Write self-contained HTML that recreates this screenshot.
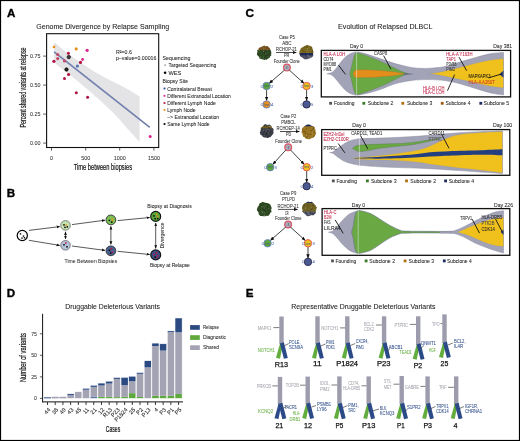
<!DOCTYPE html>
<html><head><meta charset="utf-8"><style>
html,body{margin:0;padding:0;background:#fff;}
body{width:520px;height:441px;overflow:hidden;}
svg{display:block;font-family:"Liberation Sans", sans-serif;will-change:transform;}
</style></head><body>
<svg width="520" height="441" viewBox="0 0 520 441">
<defs>
<marker id="ah" viewBox="0 0 10 10" refX="9" refY="5" markerWidth="5" markerHeight="5" orient="auto"><path d="M0,1 L10,5 L0,9 Z" fill="#111"/></marker>
<marker id="ahs" viewBox="0 0 10 10" refX="1" refY="5" markerWidth="5" markerHeight="5" orient="auto"><path d="M10,1 L0,5 L10,9 Z" fill="#111"/></marker>
<filter id="rough" x="-20%" y="-20%" width="140%" height="140%"><feTurbulence type="fractalNoise" baseFrequency="0.9" numOctaves="2" seed="3" result="n"/><feDisplacementMap in="SourceGraphic" in2="n" scale="2"/></filter>
</defs>
<rect x="0" y="0" width="520" height="441" fill="#fff"/>
<text x="6.90" y="16.90" font-size="11.6" fill="#000" font-weight="bold" stroke="#000" stroke-width="0.35">A</text>
<text x="36.30" y="29.35" font-size="8.0" fill="#222" stroke="#222" stroke-width="0.080" textLength="133.00" lengthAdjust="spacingAndGlyphs">Genome Divergence by Relapse Sampling</text>
<path d="M54.1,42.3 C60,47 65,51.5 70,55 C78,60.5 86,66.5 95,72 C104,77 112,81.5 120,85 C127,88.5 133,92.5 139.6,96.4 L139.6,142 C133,135 126,127 120,120 C112,111 104,104 95,96 C87,89 78,81 70,75 C64,70.5 59,66.5 54.1,62.5 Z" fill="#e4e4e7" stroke="none" stroke-width="1"/>
<line x1="54.10" y1="51.80" x2="149.80" y2="127.30" stroke="#7280ae" stroke-width="1.7"/>
<rect x="46.60" y="33.70" width="112.10" height="113.80" fill="none" stroke="#111" stroke-width="1.1"/>
<line x1="43.20" y1="56.10" x2="46.60" y2="56.10" stroke="#333" stroke-width="0.8"/>
<text x="40.60" y="58.00" font-size="5.4" fill="#333" stroke="#333" stroke-width="0.054" text-anchor="end">0.75</text>
<line x1="43.20" y1="85.10" x2="46.60" y2="85.10" stroke="#333" stroke-width="0.8"/>
<text x="40.60" y="87.00" font-size="5.4" fill="#333" stroke="#333" stroke-width="0.054" text-anchor="end">0.50</text>
<line x1="43.20" y1="114.10" x2="46.60" y2="114.10" stroke="#333" stroke-width="0.8"/>
<text x="40.60" y="116.00" font-size="5.4" fill="#333" stroke="#333" stroke-width="0.054" text-anchor="end">0.25</text>
<line x1="43.20" y1="143.10" x2="46.60" y2="143.10" stroke="#333" stroke-width="0.8"/>
<text x="40.60" y="145.00" font-size="5.4" fill="#333" stroke="#333" stroke-width="0.054" text-anchor="end">0.00</text>
<line x1="51.50" y1="147.50" x2="51.50" y2="150.60" stroke="#333" stroke-width="0.8"/>
<text x="51.50" y="159.50" font-size="5.4" fill="#333" stroke="#333" stroke-width="0.054" text-anchor="middle">0</text>
<line x1="85.70" y1="147.50" x2="85.70" y2="150.60" stroke="#333" stroke-width="0.8"/>
<text x="85.70" y="159.50" font-size="5.4" fill="#333" stroke="#333" stroke-width="0.054" text-anchor="middle">500</text>
<line x1="119.70" y1="147.50" x2="119.70" y2="150.60" stroke="#333" stroke-width="0.8"/>
<text x="119.70" y="159.50" font-size="5.4" fill="#333" stroke="#333" stroke-width="0.054" text-anchor="middle">1000</text>
<line x1="153.90" y1="147.50" x2="153.90" y2="150.60" stroke="#333" stroke-width="0.8"/>
<text x="153.90" y="159.50" font-size="5.4" fill="#333" stroke="#333" stroke-width="0.054" text-anchor="middle">1500</text>
<text x="73.75" y="170.40" font-size="8.8" fill="#111" textLength="58.30" lengthAdjust="spacingAndGlyphs" stroke="#111" stroke-width="0.2">Time between biopsies</text>
<text x="25.80" y="127.50" font-size="8.8" fill="#111" textLength="80.00" lengthAdjust="spacingAndGlyphs" transform="rotate(-90 25.80 127.50)" stroke="#111" stroke-width="0.2">Percent shared variants at relapse</text>
<rect x="52.80" y="45.70" width="2.40" height="2.40" fill="#e8901e" stroke="none" stroke-width="1"/>
<circle cx="76.20" cy="48.90" r="1.60" fill="#e8901e" stroke="none" stroke-width="1"/>
<circle cx="87.10" cy="50.30" r="1.60" fill="#e0218a" stroke="none" stroke-width="1"/>
<circle cx="68.40" cy="53.30" r="1.50" fill="#b3123f" stroke="none" stroke-width="1"/>
<circle cx="57.70" cy="54.50" r="1.60" fill="#c24a6a" stroke="none" stroke-width="1"/>
<circle cx="57.70" cy="58.60" r="1.60" fill="#c24a6a" stroke="none" stroke-width="1"/>
<circle cx="53.90" cy="61.30" r="1.60" fill="#b3123f" stroke="none" stroke-width="1"/>
<circle cx="64.50" cy="60.90" r="1.60" fill="#c24a6a" stroke="none" stroke-width="1"/>
<circle cx="82.60" cy="59.50" r="1.40" fill="#e0218a" stroke="none" stroke-width="1"/>
<circle cx="80.50" cy="62.40" r="1.60" fill="#b3123f" stroke="none" stroke-width="1"/>
<circle cx="77.40" cy="66.10" r="1.60" fill="#5a76b0" stroke="none" stroke-width="1"/>
<circle cx="68.60" cy="74.50" r="1.60" fill="#b3123f" stroke="none" stroke-width="1"/>
<circle cx="64.50" cy="78.60" r="1.50" fill="#b3123f" stroke="none" stroke-width="1"/>
<circle cx="76.30" cy="92.70" r="1.50" fill="#b3123f" stroke="none" stroke-width="1"/>
<circle cx="87.60" cy="97.30" r="1.50" fill="#b3123f" stroke="none" stroke-width="1"/>
<circle cx="150.20" cy="136.50" r="1.50" fill="#e0218a" stroke="none" stroke-width="1"/>
<circle cx="68.80" cy="57.10" r="1.70" fill="#444" stroke="#000" stroke-width="0.7"/>
<circle cx="66.50" cy="69.50" r="1.70" fill="#222" stroke="#000" stroke-width="0.7"/>
<text x="115.90" y="54.16" font-size="5.4" fill="#222" stroke="#222" stroke-width="0.054" textLength="16.00" lengthAdjust="spacingAndGlyphs">R²=0.6</text>
<text x="115.90" y="59.86" font-size="5.4" fill="#222" stroke="#222" stroke-width="0.054" textLength="40.60" lengthAdjust="spacingAndGlyphs">p–value=0.00016</text>
<text x="162.60" y="60.23" font-size="5.9" fill="#222" stroke="#222" stroke-width="0.059" textLength="27.90" lengthAdjust="spacingAndGlyphs">Sequencing</text>
<circle cx="165.10" cy="65.00" r="0.60" fill="#000" stroke="none" stroke-width="1"/>
<text x="168.40" y="67.03" font-size="5.9" fill="#222" stroke="#222" stroke-width="0.059" textLength="47.90" lengthAdjust="spacingAndGlyphs">Targeted Sequencing</text>
<circle cx="165.10" cy="72.70" r="1.30" fill="#000" stroke="none" stroke-width="1"/>
<text x="168.40" y="74.73" font-size="5.9" fill="#222" stroke="#222" stroke-width="0.059" textLength="12.90" lengthAdjust="spacingAndGlyphs">WES</text>
<text x="162.60" y="83.23" font-size="5.9" fill="#222" stroke="#222" stroke-width="0.059" textLength="25.40" lengthAdjust="spacingAndGlyphs">Biopsy Site</text>
<rect x="163.60" y="87.60" width="1.80" height="1.80" fill="#23449a" stroke="none" stroke-width="1"/>
<text x="167.20" y="90.53" font-size="5.9" fill="#222" stroke="#222" stroke-width="0.059" textLength="44.60" lengthAdjust="spacingAndGlyphs">Contralateral Breast</text>
<rect x="163.60" y="94.90" width="1.80" height="1.80" fill="#e0218a" stroke="none" stroke-width="1"/>
<text x="167.20" y="97.83" font-size="5.9" fill="#222" stroke="#222" stroke-width="0.059" textLength="63.60" lengthAdjust="spacingAndGlyphs">Different Extranodal Location</text>
<rect x="163.60" y="102.10" width="1.80" height="1.80" fill="#b3123f" stroke="none" stroke-width="1"/>
<text x="167.20" y="105.03" font-size="5.9" fill="#222" stroke="#222" stroke-width="0.059" textLength="48.60" lengthAdjust="spacingAndGlyphs">Different Lymph Node</text>
<rect x="163.60" y="109.10" width="1.80" height="1.80" fill="#e8901e" stroke="none" stroke-width="1"/>
<text x="167.20" y="112.03" font-size="5.9" fill="#222" stroke="#222" stroke-width="0.059" textLength="28.30" lengthAdjust="spacingAndGlyphs">Lymph Node</text>
<rect x="163.60" y="123.10" width="1.80" height="1.80" fill="#000" stroke="none" stroke-width="1"/>
<text x="167.20" y="126.03" font-size="5.9" fill="#222" stroke="#222" stroke-width="0.059" textLength="42.30" lengthAdjust="spacingAndGlyphs">Same Lymph Node</text>
<text x="167.20" y="118.93" font-size="5.9" fill="#222" stroke="#222" stroke-width="0.059" textLength="52.00" lengthAdjust="spacingAndGlyphs">–&gt; Extranodal Location</text>
<text x="6.80" y="197.00" font-size="11.6" fill="#000" font-weight="bold" stroke="#000" stroke-width="0.35">B</text>
<circle cx="22.30" cy="235.50" r="5.10" fill="#fff" stroke="#000" stroke-width="1.2"/>
<rect x="19.80" y="233.20" width="1.40" height="1.40" fill="#000" stroke="none" stroke-width="1"/>
<rect x="22.80" y="235.40" width="1.40" height="1.40" fill="#000" stroke="none" stroke-width="1"/>
<rect x="23.80" y="237.10" width="1.40" height="1.40" fill="#000" stroke="none" stroke-width="1"/>
<rect x="21.30" y="237.40" width="1.40" height="1.40" fill="#000" stroke="none" stroke-width="1"/>
<circle cx="65.50" cy="225.40" r="4.80" fill="#c5e3b0" stroke="#666" stroke-width="0.8"/>
<circle cx="65.50" cy="245.30" r="4.80" fill="#b4c2dc" stroke="#666" stroke-width="0.8"/>
<circle cx="110.90" cy="219.90" r="4.90" fill="#7bbf57" stroke="#333" stroke-width="0.9"/>
<circle cx="110.90" cy="250.80" r="4.90" fill="#4a5f92" stroke="#333" stroke-width="0.9"/>
<circle cx="155.70" cy="216.40" r="5.00" fill="#5aa83a" stroke="#111" stroke-width="1.1"/>
<circle cx="155.70" cy="254.90" r="5.00" fill="#3a4f85" stroke="#111" stroke-width="1.1"/>
<rect x="63.25" y="224.15" width="1.50" height="1.50" fill="#000" stroke="none" stroke-width="1"/>
<rect x="65.55" y="224.25" width="1.50" height="1.50" fill="#e8901e" stroke="none" stroke-width="1"/>
<rect x="66.55" y="226.15" width="1.50" height="1.50" fill="#000" stroke="none" stroke-width="1"/>
<rect x="64.25" y="226.65" width="1.50" height="1.50" fill="#000" stroke="none" stroke-width="1"/>
<rect x="63.25" y="244.05" width="1.50" height="1.50" fill="#000" stroke="none" stroke-width="1"/>
<rect x="65.05" y="242.25" width="1.50" height="1.50" fill="#c0103a" stroke="none" stroke-width="1"/>
<rect x="66.25" y="246.05" width="1.50" height="1.50" fill="#000" stroke="none" stroke-width="1"/>
<rect x="108.65" y="219.65" width="1.50" height="1.50" fill="#000" stroke="none" stroke-width="1"/>
<rect x="111.35" y="218.05" width="1.50" height="1.50" fill="#e8901e" stroke="none" stroke-width="1"/>
<rect x="112.15" y="219.65" width="1.50" height="1.50" fill="#e8901e" stroke="none" stroke-width="1"/>
<rect x="110.95" y="221.35" width="1.50" height="1.50" fill="#000" stroke="none" stroke-width="1"/>
<rect x="108.65" y="249.55" width="1.50" height="1.50" fill="#000" stroke="none" stroke-width="1"/>
<rect x="110.65" y="248.05" width="1.50" height="1.50" fill="#c0103a" stroke="none" stroke-width="1"/>
<rect x="111.65" y="251.55" width="1.50" height="1.50" fill="#c0103a" stroke="none" stroke-width="1"/>
<rect x="109.95" y="252.25" width="1.50" height="1.50" fill="#000" stroke="none" stroke-width="1"/>
<rect x="153.15" y="215.15" width="1.50" height="1.50" fill="#000" stroke="none" stroke-width="1"/>
<rect x="155.85" y="213.65" width="1.50" height="1.50" fill="#e8901e" stroke="none" stroke-width="1"/>
<rect x="156.75" y="215.85" width="1.50" height="1.50" fill="#e8901e" stroke="none" stroke-width="1"/>
<rect x="154.45" y="217.95" width="1.50" height="1.50" fill="#000" stroke="none" stroke-width="1"/>
<rect x="156.95" y="217.85" width="1.50" height="1.50" fill="#000" stroke="none" stroke-width="1"/>
<rect x="153.15" y="253.65" width="1.50" height="1.50" fill="#c0103a" stroke="none" stroke-width="1"/>
<rect x="155.75" y="252.15" width="1.50" height="1.50" fill="#c0103a" stroke="none" stroke-width="1"/>
<rect x="156.95" y="254.95" width="1.50" height="1.50" fill="#c0103a" stroke="none" stroke-width="1"/>
<rect x="154.45" y="256.45" width="1.50" height="1.50" fill="#000" stroke="none" stroke-width="1"/>
<rect x="155.95" y="256.65" width="1.50" height="1.50" fill="#c0103a" stroke="none" stroke-width="1"/>
<line x1="28.90" y1="230.40" x2="59.70" y2="226.60" stroke="#111" stroke-width="0.7" marker-end="url(#ah)"/>
<line x1="28.90" y1="240.30" x2="59.70" y2="245.40" stroke="#111" stroke-width="0.7" marker-end="url(#ah)"/>
<line x1="72.00" y1="224.60" x2="105.00" y2="220.20" stroke="#111" stroke-width="0.7" marker-end="url(#ah)"/>
<line x1="72.00" y1="246.00" x2="105.00" y2="250.40" stroke="#111" stroke-width="0.7" marker-end="url(#ah)"/>
<line x1="117.60" y1="220.60" x2="149.70" y2="217.50" stroke="#111" stroke-width="0.7" marker-end="url(#ah)"/>
<line x1="117.60" y1="251.30" x2="149.70" y2="254.50" stroke="#111" stroke-width="0.7" marker-end="url(#ah)"/>
<line x1="65.50" y1="231.80" x2="65.50" y2="239.00" stroke="#111" stroke-width="0.7" marker-end="url(#ah)" marker-start="url(#ahs)"/>
<line x1="110.90" y1="226.40" x2="110.90" y2="244.30" stroke="#111" stroke-width="0.7" marker-end="url(#ah)" marker-start="url(#ahs)"/>
<line x1="155.70" y1="223.00" x2="155.70" y2="248.30" stroke="#111" stroke-width="0.7" marker-end="url(#ah)" marker-start="url(#ahs)"/>
<text x="64.60" y="263.32" font-size="5.3" fill="#333" stroke="#333" stroke-width="0.053" textLength="52.60" lengthAdjust="spacingAndGlyphs">Time Between Biopsies</text>
<text x="147.20" y="207.72" font-size="5.3" fill="#222" stroke="#222" stroke-width="0.053" textLength="44.50" lengthAdjust="spacingAndGlyphs">Biopsy at Diagnosis</text>
<text x="149.90" y="267.22" font-size="5.3" fill="#222" stroke="#222" stroke-width="0.053" textLength="40.00" lengthAdjust="spacingAndGlyphs">Biopsy at Relapse</text>
<text x="163.60" y="248.50" font-size="6.2" fill="#222" stroke="#222" stroke-width="0.062" textLength="25.90" lengthAdjust="spacingAndGlyphs" transform="rotate(-90 163.60 248.50)">Divergence</text>
<text x="6.80" y="297.00" font-size="11.6" fill="#000" font-weight="bold" stroke="#000" stroke-width="0.35">D</text>
<text x="65.30" y="308.94" font-size="6.8" fill="#222" stroke="#222" stroke-width="0.068" textLength="94.60" lengthAdjust="spacingAndGlyphs">Druggable Deleterious Variants</text>
<line x1="42.60" y1="313.80" x2="42.60" y2="402.20" stroke="#111" stroke-width="1.0"/>
<line x1="42.10" y1="401.90" x2="183.00" y2="401.90" stroke="#111" stroke-width="1.0"/>
<line x1="39.90" y1="333.80" x2="42.60" y2="333.80" stroke="#333" stroke-width="0.8"/>
<text x="37.00" y="335.60" font-size="5.2" fill="#333" stroke="#333" stroke-width="0.052" text-anchor="end">75</text>
<line x1="39.90" y1="355.30" x2="42.60" y2="355.30" stroke="#333" stroke-width="0.8"/>
<text x="37.00" y="357.10" font-size="5.2" fill="#333" stroke="#333" stroke-width="0.052" text-anchor="end">50</text>
<line x1="39.90" y1="376.90" x2="42.60" y2="376.90" stroke="#333" stroke-width="0.8"/>
<text x="37.00" y="378.70" font-size="5.2" fill="#333" stroke="#333" stroke-width="0.052" text-anchor="end">25</text>
<line x1="39.90" y1="398.40" x2="42.60" y2="398.40" stroke="#333" stroke-width="0.8"/>
<text x="37.00" y="400.20" font-size="5.2" fill="#333" stroke="#333" stroke-width="0.052" text-anchor="end">0</text>
<text x="26.00" y="382.10" font-size="8.8" fill="#111" textLength="49.00" lengthAdjust="spacingAndGlyphs" transform="rotate(-90 26.00 382.10)" stroke="#111" stroke-width="0.2">Number of variants</text>
<text x="105.80" y="432.10" font-size="8.8" fill="#111" textLength="14.40" lengthAdjust="spacingAndGlyphs" stroke="#111" stroke-width="0.2">Cases</text>
<rect x="43.95" y="397.11" width="7.10" height="1.29" fill="#5b73a8" stroke="none" stroke-width="1"/>
<line x1="47.50" y1="401.90" x2="47.50" y2="405.00" stroke="#222" stroke-width="0.9"/>
<text x="50.80" y="410.00" font-size="5.7" fill="#222" stroke="#222" stroke-width="0.057" text-anchor="end" transform="rotate(-47 50.80 410.00)">44</text>
<rect x="51.66" y="396.77" width="7.10" height="1.63" fill="#a3a3b4" stroke="none" stroke-width="1"/>
<line x1="55.21" y1="401.90" x2="55.21" y2="405.00" stroke="#222" stroke-width="0.9"/>
<text x="58.51" y="410.00" font-size="5.7" fill="#222" stroke="#222" stroke-width="0.057" text-anchor="end" transform="rotate(-47 58.51 410.00)">38</text>
<rect x="59.37" y="396.77" width="7.10" height="1.63" fill="#a3a3b4" stroke="none" stroke-width="1"/>
<line x1="62.92" y1="401.90" x2="62.92" y2="405.00" stroke="#222" stroke-width="0.9"/>
<text x="66.22" y="410.00" font-size="5.7" fill="#222" stroke="#222" stroke-width="0.057" text-anchor="end" transform="rotate(-47 66.22 410.00)">49</text>
<rect x="67.08" y="395.13" width="7.10" height="3.27" fill="#a3a3b4" stroke="none" stroke-width="1"/>
<rect x="67.08" y="393.84" width="7.10" height="1.29" fill="#2b4a82" stroke="none" stroke-width="1"/>
<rect x="67.08" y="393.84" width="7.10" height="4.56" fill="none" stroke="#fff" stroke-width="0.5"/>
<line x1="70.63" y1="401.90" x2="70.63" y2="405.00" stroke="#222" stroke-width="0.9"/>
<text x="73.93" y="410.00" font-size="5.7" fill="#222" stroke="#222" stroke-width="0.057" text-anchor="end" transform="rotate(-47 73.93 410.00)">43</text>
<rect x="74.79" y="391.78" width="7.10" height="6.62" fill="#a3a3b4" stroke="none" stroke-width="1"/>
<rect x="74.79" y="391.78" width="7.10" height="6.62" fill="none" stroke="#fff" stroke-width="0.5"/>
<line x1="78.34" y1="401.90" x2="78.34" y2="405.00" stroke="#222" stroke-width="0.9"/>
<text x="81.64" y="410.00" font-size="5.7" fill="#222" stroke="#222" stroke-width="0.057" text-anchor="end" transform="rotate(-47 81.64 410.00)">45</text>
<rect x="82.50" y="389.71" width="7.10" height="8.69" fill="#a3a3b4" stroke="none" stroke-width="1"/>
<rect x="82.50" y="388.25" width="7.10" height="1.46" fill="#2b4a82" stroke="none" stroke-width="1"/>
<rect x="82.50" y="388.25" width="7.10" height="10.15" fill="none" stroke="#fff" stroke-width="0.5"/>
<line x1="86.05" y1="401.90" x2="86.05" y2="405.00" stroke="#222" stroke-width="0.9"/>
<text x="89.35" y="410.00" font-size="5.7" fill="#222" stroke="#222" stroke-width="0.057" text-anchor="end" transform="rotate(-47 89.35 410.00)">11</text>
<rect x="90.21" y="396.85" width="7.10" height="1.55" fill="#5b73a8" stroke="none" stroke-width="1"/>
<rect x="90.21" y="386.88" width="7.10" height="9.98" fill="#a3a3b4" stroke="none" stroke-width="1"/>
<rect x="90.21" y="385.24" width="7.10" height="1.63" fill="#2b4a82" stroke="none" stroke-width="1"/>
<rect x="90.21" y="385.24" width="7.10" height="13.16" fill="none" stroke="#fff" stroke-width="0.5"/>
<line x1="93.76" y1="401.90" x2="93.76" y2="405.00" stroke="#222" stroke-width="0.9"/>
<text x="97.06" y="410.00" font-size="5.7" fill="#222" stroke="#222" stroke-width="0.057" text-anchor="end" transform="rotate(-47 97.06 410.00)">21</text>
<rect x="97.92" y="396.85" width="7.10" height="1.55" fill="#5ea83c" stroke="none" stroke-width="1"/>
<rect x="97.92" y="385.50" width="7.10" height="11.35" fill="#a3a3b4" stroke="none" stroke-width="1"/>
<rect x="97.92" y="383.09" width="7.10" height="2.41" fill="#2b4a82" stroke="none" stroke-width="1"/>
<rect x="97.92" y="383.09" width="7.10" height="15.31" fill="none" stroke="#fff" stroke-width="0.5"/>
<line x1="101.47" y1="401.90" x2="101.47" y2="405.00" stroke="#222" stroke-width="0.9"/>
<text x="104.77" y="410.00" font-size="5.7" fill="#222" stroke="#222" stroke-width="0.057" text-anchor="end" transform="rotate(-47 104.77 410.00)">12</text>
<rect x="105.63" y="396.85" width="7.10" height="1.55" fill="#5ea83c" stroke="none" stroke-width="1"/>
<rect x="105.63" y="383.52" width="7.10" height="13.33" fill="#a3a3b4" stroke="none" stroke-width="1"/>
<rect x="105.63" y="381.20" width="7.10" height="2.32" fill="#2b4a82" stroke="none" stroke-width="1"/>
<rect x="105.63" y="381.20" width="7.10" height="17.20" fill="none" stroke="#fff" stroke-width="0.5"/>
<line x1="109.18" y1="401.90" x2="109.18" y2="405.00" stroke="#222" stroke-width="0.9"/>
<text x="112.48" y="410.00" font-size="5.7" fill="#222" stroke="#222" stroke-width="0.057" text-anchor="end" transform="rotate(-47 112.48 410.00)">R13</text>
<rect x="113.34" y="397.11" width="7.10" height="1.29" fill="#5ea83c" stroke="none" stroke-width="1"/>
<rect x="113.34" y="378.88" width="7.10" height="18.23" fill="#a3a3b4" stroke="none" stroke-width="1"/>
<rect x="113.34" y="377.50" width="7.10" height="1.38" fill="#2b4a82" stroke="none" stroke-width="1"/>
<rect x="113.34" y="377.50" width="7.10" height="20.90" fill="none" stroke="#fff" stroke-width="0.5"/>
<line x1="116.89" y1="401.90" x2="116.89" y2="405.00" stroke="#222" stroke-width="0.9"/>
<text x="120.19" y="410.00" font-size="5.7" fill="#222" stroke="#222" stroke-width="0.057" text-anchor="end" transform="rotate(-47 120.19 410.00)">P23</text>
<rect x="121.05" y="396.85" width="7.10" height="1.55" fill="#5ea83c" stroke="none" stroke-width="1"/>
<rect x="121.05" y="385.07" width="7.10" height="11.78" fill="#a3a3b4" stroke="none" stroke-width="1"/>
<rect x="121.05" y="377.33" width="7.10" height="7.74" fill="#2b4a82" stroke="none" stroke-width="1"/>
<rect x="121.05" y="377.33" width="7.10" height="21.07" fill="none" stroke="#fff" stroke-width="0.5"/>
<line x1="124.60" y1="401.90" x2="124.60" y2="405.00" stroke="#222" stroke-width="0.9"/>
<text x="127.90" y="410.00" font-size="5.7" fill="#222" stroke="#222" stroke-width="0.057" text-anchor="end" transform="rotate(-47 127.90 410.00)">P1824</text>
<rect x="128.76" y="393.15" width="7.10" height="5.25" fill="#5ea83c" stroke="none" stroke-width="1"/>
<rect x="128.76" y="381.29" width="7.10" height="11.87" fill="#a3a3b4" stroke="none" stroke-width="1"/>
<rect x="128.76" y="376.21" width="7.10" height="5.07" fill="#2b4a82" stroke="none" stroke-width="1"/>
<rect x="128.76" y="376.21" width="7.10" height="22.19" fill="none" stroke="#fff" stroke-width="0.5"/>
<line x1="132.31" y1="401.90" x2="132.31" y2="405.00" stroke="#222" stroke-width="0.9"/>
<text x="135.61" y="410.00" font-size="5.7" fill="#222" stroke="#222" stroke-width="0.057" text-anchor="end" transform="rotate(-47 135.61 410.00)">25</text>
<rect x="136.47" y="397.02" width="7.10" height="1.38" fill="#5ea83c" stroke="none" stroke-width="1"/>
<rect x="136.47" y="373.80" width="7.10" height="23.22" fill="#a3a3b4" stroke="none" stroke-width="1"/>
<rect x="136.47" y="372.51" width="7.10" height="1.29" fill="#2b4a82" stroke="none" stroke-width="1"/>
<rect x="136.47" y="372.51" width="7.10" height="25.89" fill="none" stroke="#fff" stroke-width="0.5"/>
<line x1="140.02" y1="401.90" x2="140.02" y2="405.00" stroke="#222" stroke-width="0.9"/>
<text x="143.32" y="410.00" font-size="5.7" fill="#222" stroke="#222" stroke-width="0.057" text-anchor="end" transform="rotate(-47 143.32 410.00)">P2</text>
<rect x="144.18" y="367.35" width="7.10" height="31.05" fill="#a3a3b4" stroke="none" stroke-width="1"/>
<rect x="144.18" y="360.73" width="7.10" height="6.62" fill="#2b4a82" stroke="none" stroke-width="1"/>
<rect x="144.18" y="360.73" width="7.10" height="37.67" fill="none" stroke="#fff" stroke-width="0.5"/>
<line x1="147.73" y1="401.90" x2="147.73" y2="405.00" stroke="#222" stroke-width="0.9"/>
<text x="151.03" y="410.00" font-size="5.7" fill="#222" stroke="#222" stroke-width="0.057" text-anchor="end" transform="rotate(-47 151.03 410.00)">P13</text>
<rect x="151.89" y="395.82" width="7.10" height="2.58" fill="#5ea83c" stroke="none" stroke-width="1"/>
<rect x="151.89" y="346.03" width="7.10" height="49.79" fill="#a3a3b4" stroke="none" stroke-width="1"/>
<rect x="151.89" y="343.10" width="7.10" height="2.92" fill="#2b4a82" stroke="none" stroke-width="1"/>
<rect x="151.89" y="343.10" width="7.10" height="55.30" fill="none" stroke="#fff" stroke-width="0.5"/>
<line x1="155.44" y1="401.90" x2="155.44" y2="405.00" stroke="#222" stroke-width="0.9"/>
<text x="158.74" y="410.00" font-size="5.7" fill="#222" stroke="#222" stroke-width="0.057" text-anchor="end" transform="rotate(-47 158.74 410.00)">4</text>
<rect x="159.60" y="395.82" width="7.10" height="2.58" fill="#5ea83c" stroke="none" stroke-width="1"/>
<rect x="159.60" y="350.58" width="7.10" height="45.24" fill="#a3a3b4" stroke="none" stroke-width="1"/>
<rect x="159.60" y="343.79" width="7.10" height="6.79" fill="#2b4a82" stroke="none" stroke-width="1"/>
<rect x="159.60" y="343.79" width="7.10" height="54.61" fill="none" stroke="#fff" stroke-width="0.5"/>
<line x1="163.15" y1="401.90" x2="163.15" y2="405.00" stroke="#222" stroke-width="0.9"/>
<text x="166.45" y="410.00" font-size="5.7" fill="#222" stroke="#222" stroke-width="0.057" text-anchor="end" transform="rotate(-47 166.45 410.00)">P3</text>
<rect x="167.31" y="395.82" width="7.10" height="2.58" fill="#5ea83c" stroke="none" stroke-width="1"/>
<rect x="167.31" y="332.09" width="7.10" height="63.73" fill="#a3a3b4" stroke="none" stroke-width="1"/>
<rect x="167.31" y="330.89" width="7.10" height="1.20" fill="#2b4a82" stroke="none" stroke-width="1"/>
<rect x="167.31" y="330.89" width="7.10" height="67.51" fill="none" stroke="#fff" stroke-width="0.5"/>
<line x1="170.86" y1="401.90" x2="170.86" y2="405.00" stroke="#222" stroke-width="0.9"/>
<text x="174.16" y="410.00" font-size="5.7" fill="#222" stroke="#222" stroke-width="0.057" text-anchor="end" transform="rotate(-47 174.16 410.00)">P1</text>
<rect x="175.02" y="393.93" width="7.10" height="4.47" fill="#5ea83c" stroke="none" stroke-width="1"/>
<rect x="175.02" y="332.27" width="7.10" height="61.66" fill="#a3a3b4" stroke="none" stroke-width="1"/>
<rect x="175.02" y="317.99" width="7.10" height="14.28" fill="#2b4a82" stroke="none" stroke-width="1"/>
<rect x="175.02" y="317.99" width="7.10" height="80.41" fill="none" stroke="#fff" stroke-width="0.5"/>
<line x1="178.57" y1="401.90" x2="178.57" y2="405.00" stroke="#222" stroke-width="0.9"/>
<text x="181.87" y="410.00" font-size="5.7" fill="#222" stroke="#222" stroke-width="0.057" text-anchor="end" transform="rotate(-47 181.87 410.00)">P5</text>
<rect x="190.10" y="325.10" width="9.70" height="4.70" fill="#2b4a82" stroke="none" stroke-width="1"/>
<rect x="190.10" y="335.20" width="9.70" height="4.70" fill="#5ea83c" stroke="none" stroke-width="1"/>
<rect x="190.10" y="345.30" width="9.70" height="4.70" fill="#a3a3b4" stroke="none" stroke-width="1"/>
<text x="202.90" y="329.12" font-size="5.0" fill="#222" stroke="#222" stroke-width="0.050" textLength="16.10" lengthAdjust="spacingAndGlyphs">Relapse</text>
<text x="202.90" y="339.22" font-size="5.0" fill="#222" stroke="#222" stroke-width="0.050" textLength="23.10" lengthAdjust="spacingAndGlyphs">Diagnostic</text>
<text x="202.90" y="349.32" font-size="5.0" fill="#222" stroke="#222" stroke-width="0.050" textLength="16.10" lengthAdjust="spacingAndGlyphs">Shared</text>
<text x="245.70" y="297.00" font-size="11.6" fill="#000" font-weight="bold" stroke="#000" stroke-width="0.35">E</text>
<text x="291.30" y="308.71" font-size="7.0" fill="#222" stroke="#222" stroke-width="0.070" textLength="144.10" lengthAdjust="spacingAndGlyphs">Representative Druggable Deleterious Variants</text>
<rect x="279.30" y="316.50" width="4.40" height="27.40" fill="#9c9cad" stroke="none" stroke-width="1"/>
<polygon points="280.10,343.20 282.90,344.20 280.00,358.70 276.00,357.80" fill="#62ad3d" stroke="none" stroke-width="1"/>
<polygon points="279.90,343.50 283.90,342.30 287.80,357.90 283.90,358.80" fill="#2b4a87" stroke="none" stroke-width="1"/>
<rect x="315.30" y="316.30" width="4.40" height="27.60" fill="#9c9cad" stroke="none" stroke-width="1"/>
<polygon points="316.10,343.20 318.90,344.20 316.00,358.70 312.00,357.80" fill="#62ad3d" stroke="none" stroke-width="1"/>
<polygon points="315.90,343.50 319.90,342.30 323.80,357.90 319.90,358.80" fill="#2b4a87" stroke="none" stroke-width="1"/>
<rect x="345.10" y="316.30" width="4.40" height="27.60" fill="#9c9cad" stroke="none" stroke-width="1"/>
<polygon points="345.90,343.20 348.70,344.20 345.80,358.70 341.80,357.80" fill="#62ad3d" stroke="none" stroke-width="1"/>
<polygon points="345.70,343.50 349.70,342.30 353.60,357.90 349.70,358.80" fill="#2b4a87" stroke="none" stroke-width="1"/>
<rect x="381.90" y="316.30" width="4.40" height="27.60" fill="#9c9cad" stroke="none" stroke-width="1"/>
<polygon points="382.70,343.20 385.50,344.20 382.60,358.70 378.60,357.80" fill="#62ad3d" stroke="none" stroke-width="1"/>
<polygon points="382.50,343.50 386.50,342.30 390.40,357.90 386.50,358.80" fill="#2b4a87" stroke="none" stroke-width="1"/>
<rect x="416.00" y="316.30" width="4.40" height="28.60" fill="#9c9cad" stroke="none" stroke-width="1"/>
<polygon points="416.80,344.20 419.60,345.20 416.70,359.70 412.70,358.80" fill="#62ad3d" stroke="none" stroke-width="1"/>
<polygon points="416.60,344.50 420.60,343.30 424.50,358.90 420.60,359.80" fill="#2b4a87" stroke="none" stroke-width="1"/>
<rect x="442.30" y="314.40" width="4.40" height="28.70" fill="#9c9cad" stroke="none" stroke-width="1"/>
<polygon points="443.10,342.40 445.90,343.40 443.00,357.90 439.00,357.00" fill="#62ad3d" stroke="none" stroke-width="1"/>
<polygon points="442.90,342.70 446.90,341.50 450.80,357.10 446.90,358.00" fill="#2b4a87" stroke="none" stroke-width="1"/>
<rect x="277.80" y="376.90" width="4.40" height="27.40" fill="#9c9cad" stroke="none" stroke-width="1"/>
<polygon points="278.60,403.60 281.40,404.60 278.50,419.10 274.50,418.20" fill="#2b4a87" stroke="none" stroke-width="1"/>
<polygon points="278.40,403.90 282.40,402.70 286.30,418.30 282.40,419.20" fill="#2b4a87" stroke="none" stroke-width="1"/>
<rect x="305.50" y="376.60" width="4.40" height="27.50" fill="#9c9cad" stroke="none" stroke-width="1"/>
<polygon points="306.30,403.40 309.10,404.40 306.20,418.90 302.20,418.00" fill="#62ad3d" stroke="none" stroke-width="1"/>
<polygon points="306.10,403.70 310.10,402.50 314.00,418.10 310.10,419.00" fill="#2b4a87" stroke="none" stroke-width="1"/>
<rect x="337.20" y="376.40" width="4.40" height="27.90" fill="#9c9cad" stroke="none" stroke-width="1"/>
<polygon points="338.00,403.60 340.80,404.60 337.90,419.10 333.90,418.20" fill="#62ad3d" stroke="none" stroke-width="1"/>
<polygon points="337.80,403.90 341.80,402.70 345.70,418.30 341.80,419.20" fill="#2b4a87" stroke="none" stroke-width="1"/>
<rect x="366.50" y="376.40" width="4.40" height="27.90" fill="#9c9cad" stroke="none" stroke-width="1"/>
<polygon points="367.30,403.60 370.10,404.60 367.20,419.10 363.20,418.20" fill="#62ad3d" stroke="none" stroke-width="1"/>
<polygon points="367.10,403.90 371.10,402.70 375.00,418.30 371.10,419.20" fill="#2b4a87" stroke="none" stroke-width="1"/>
<rect x="399.50" y="376.00" width="4.40" height="28.30" fill="#9c9cad" stroke="none" stroke-width="1"/>
<polygon points="400.30,403.60 403.10,404.60 400.20,419.10 396.20,418.20" fill="#62ad3d" stroke="none" stroke-width="1"/>
<polygon points="400.10,403.90 404.10,402.70 408.00,418.30 404.10,419.20" fill="#2b4a87" stroke="none" stroke-width="1"/>
<rect x="425.40" y="376.40" width="4.40" height="27.90" fill="#9c9cad" stroke="none" stroke-width="1"/>
<polygon points="426.20,403.60 429.00,404.60 426.10,419.10 422.10,418.20" fill="#62ad3d" stroke="none" stroke-width="1"/>
<polygon points="426.00,403.90 430.00,402.70 433.90,418.30 430.00,419.20" fill="#2b4a87" stroke="none" stroke-width="1"/>
<rect x="454.00" y="376.40" width="4.40" height="27.90" fill="#9c9cad" stroke="none" stroke-width="1"/>
<polygon points="454.80,403.60 457.60,404.60 454.70,419.10 450.70,418.20" fill="#62ad3d" stroke="none" stroke-width="1"/>
<polygon points="454.60,403.90 458.60,402.70 462.50,418.30 458.60,419.20" fill="#2b4a87" stroke="none" stroke-width="1"/>
<text x="274.70" y="366.50" font-size="7.6" fill="#111" textLength="13.30" lengthAdjust="spacingAndGlyphs" stroke="#111" stroke-width="0.25">R13</text>
<text x="313.00" y="366.30" font-size="7.6" fill="#111" textLength="8.60" lengthAdjust="spacingAndGlyphs" stroke="#111" stroke-width="0.25">11</text>
<text x="336.20" y="366.30" font-size="7.6" fill="#111" textLength="21.90" lengthAdjust="spacingAndGlyphs" stroke="#111" stroke-width="0.25">P1824</text>
<text x="376.90" y="366.30" font-size="7.6" fill="#111" textLength="13.50" lengthAdjust="spacingAndGlyphs" stroke="#111" stroke-width="0.25">P23</text>
<text x="413.70" y="367.70" font-size="7.6" fill="#111" textLength="8.60" lengthAdjust="spacingAndGlyphs" stroke="#111" stroke-width="0.25">P2</text>
<text x="440.60" y="366.30" font-size="7.6" fill="#111" textLength="7.70" lengthAdjust="spacingAndGlyphs" stroke="#111" stroke-width="0.25">25</text>
<text x="275.40" y="428.00" font-size="7.6" fill="#111" textLength="7.80" lengthAdjust="spacingAndGlyphs" stroke="#111" stroke-width="0.25">21</text>
<text x="304.00" y="428.00" font-size="7.6" fill="#111" textLength="8.10" lengthAdjust="spacingAndGlyphs" stroke="#111" stroke-width="0.25">12</text>
<text x="335.40" y="428.00" font-size="7.6" fill="#111" textLength="7.80" lengthAdjust="spacingAndGlyphs" stroke="#111" stroke-width="0.25">P5</text>
<text x="362.00" y="427.60" font-size="7.6" fill="#111" textLength="13.30" lengthAdjust="spacingAndGlyphs" stroke="#111" stroke-width="0.25">P13</text>
<text x="397.10" y="427.60" font-size="7.6" fill="#111" textLength="7.60" lengthAdjust="spacingAndGlyphs" stroke="#111" stroke-width="0.25">P1</text>
<text x="423.40" y="427.60" font-size="7.6" fill="#111" textLength="8.60" lengthAdjust="spacingAndGlyphs" stroke="#111" stroke-width="0.25">P3</text>
<text x="453.60" y="427.60" font-size="7.6" fill="#111" textLength="4.00" lengthAdjust="spacingAndGlyphs" stroke="#111" stroke-width="0.25">4</text>
<text x="257.70" y="329.69" font-size="4.9" fill="#a4a4ae" stroke="#a4a4ae" stroke-width="0.049" textLength="13.60" lengthAdjust="spacingAndGlyphs">MAPK1</text>
<text x="257.70" y="352.29" font-size="4.9" fill="#62ad3d" stroke="#62ad3d" stroke-width="0.049" textLength="17.00" lengthAdjust="spacingAndGlyphs">NOTCH1</text>
<text x="289.00" y="343.79" font-size="4.9" fill="#2b4a87" stroke="#2b4a87" stroke-width="0.049" textLength="11.60" lengthAdjust="spacingAndGlyphs">POLE,</text>
<text x="289.00" y="348.79" font-size="4.9" fill="#2b4a87" stroke="#2b4a87" stroke-width="0.049" textLength="14.00" lengthAdjust="spacingAndGlyphs">SCN9A</text>
<text x="326.00" y="344.09" font-size="4.9" fill="#2b4a87" stroke="#2b4a87" stroke-width="0.049" textLength="8.50" lengthAdjust="spacingAndGlyphs">PIM1</text>
<text x="326.00" y="348.89" font-size="4.9" fill="#2b4a87" stroke="#2b4a87" stroke-width="0.049" textLength="9.00" lengthAdjust="spacingAndGlyphs">PDK1</text>
<text x="321.20" y="330.09" font-size="4.9" fill="#a4a4ae" stroke="#a4a4ae" stroke-width="0.049" textLength="17.30" lengthAdjust="spacingAndGlyphs">NOTCH1</text>
<text x="355.80" y="343.49" font-size="4.9" fill="#2b4a87" stroke="#2b4a87" stroke-width="0.049" textLength="12.70" lengthAdjust="spacingAndGlyphs">CXCR4,</text>
<text x="355.80" y="348.69" font-size="4.9" fill="#2b4a87" stroke="#2b4a87" stroke-width="0.049" textLength="8.20" lengthAdjust="spacingAndGlyphs">PIM1</text>
<text x="364.00" y="325.69" font-size="4.9" fill="#a4a4ae" stroke="#a4a4ae" stroke-width="0.049" textLength="10.60" lengthAdjust="spacingAndGlyphs">BCL2,</text>
<text x="364.00" y="330.69" font-size="4.9" fill="#a4a4ae" stroke="#a4a4ae" stroke-width="0.049" textLength="10.00" lengthAdjust="spacingAndGlyphs">CDK2</text>
<text x="388.80" y="348.89" font-size="4.9" fill="#2b4a87" stroke="#2b4a87" stroke-width="0.049" textLength="13.90" lengthAdjust="spacingAndGlyphs">ABCB1</text>
<text x="399.60" y="353.69" font-size="4.9" fill="#62ad3d" stroke="#62ad3d" stroke-width="0.049" textLength="12.10" lengthAdjust="spacingAndGlyphs">TEAD1</text>
<text x="394.40" y="326.59" font-size="4.9" fill="#a4a4ae" stroke="#a4a4ae" stroke-width="0.049" textLength="13.50" lengthAdjust="spacingAndGlyphs">PTPRC</text>
<text x="421.30" y="345.49" font-size="4.9" fill="#2b4a87" stroke="#2b4a87" stroke-width="0.049" textLength="14.50" lengthAdjust="spacingAndGlyphs">DNMT1</text>
<text x="429.00" y="352.19" font-size="4.9" fill="#62ad3d" stroke="#62ad3d" stroke-width="0.049" textLength="6.80" lengthAdjust="spacingAndGlyphs">HGF</text>
<text x="432.00" y="325.69" font-size="4.9" fill="#a4a4ae" stroke="#a4a4ae" stroke-width="0.049" textLength="7.60" lengthAdjust="spacingAndGlyphs">TPO</text>
<text x="454.00" y="343.19" font-size="4.9" fill="#2b4a87" stroke="#2b4a87" stroke-width="0.049" textLength="11.60" lengthAdjust="spacingAndGlyphs">BCL2,</text>
<text x="454.00" y="347.99" font-size="4.9" fill="#2b4a87" stroke="#2b4a87" stroke-width="0.049" textLength="9.00" lengthAdjust="spacingAndGlyphs">IL4R</text>
<text x="256.70" y="388.09" font-size="4.9" fill="#a4a4ae" stroke="#a4a4ae" stroke-width="0.049" textLength="14.40" lengthAdjust="spacingAndGlyphs">PRKCB</text>
<text x="258.10" y="413.39" font-size="4.9" fill="#62ad3d" stroke="#62ad3d" stroke-width="0.049" textLength="15.10" lengthAdjust="spacingAndGlyphs">KCNQ2</text>
<text x="284.40" y="409.09" font-size="4.9" fill="#2b4a87" stroke="#2b4a87" stroke-width="0.049" textLength="12.60" lengthAdjust="spacingAndGlyphs">TACR1</text>
<text x="285.80" y="387.39" font-size="4.9" fill="#a4a4ae" stroke="#a4a4ae" stroke-width="0.049" textLength="13.00" lengthAdjust="spacingAndGlyphs">TOP2B</text>
<text x="292.70" y="415.49" font-size="4.9" fill="#62ad3d" stroke="#62ad3d" stroke-width="0.049" textLength="7.60" lengthAdjust="spacingAndGlyphs">HLA-</text>
<text x="289.60" y="420.99" font-size="4.9" fill="#62ad3d" stroke="#62ad3d" stroke-width="0.049" textLength="10.70" lengthAdjust="spacingAndGlyphs">DRB1</text>
<text x="316.90" y="406.29" font-size="4.9" fill="#2b4a87" stroke="#2b4a87" stroke-width="0.049" textLength="14.20" lengthAdjust="spacingAndGlyphs">PSMB1</text>
<text x="316.90" y="411.49" font-size="4.9" fill="#2b4a87" stroke="#2b4a87" stroke-width="0.049" textLength="9.60" lengthAdjust="spacingAndGlyphs">LY96</text>
<text x="319.90" y="385.49" font-size="4.9" fill="#a4a4ae" stroke="#a4a4ae" stroke-width="0.049" textLength="9.80" lengthAdjust="spacingAndGlyphs">IDO1,</text>
<text x="319.90" y="390.89" font-size="4.9" fill="#a4a4ae" stroke="#a4a4ae" stroke-width="0.049" textLength="9.80" lengthAdjust="spacingAndGlyphs">PIM2</text>
<text x="348.20" y="406.79" font-size="4.9" fill="#2b4a87" stroke="#2b4a87" stroke-width="0.049" textLength="10.30" lengthAdjust="spacingAndGlyphs">PIM1,</text>
<text x="348.20" y="411.99" font-size="4.9" fill="#2b4a87" stroke="#2b4a87" stroke-width="0.049" textLength="7.30" lengthAdjust="spacingAndGlyphs">SRC</text>
<text x="348.20" y="385.19" font-size="4.9" fill="#a4a4ae" stroke="#a4a4ae" stroke-width="0.049" textLength="11.20" lengthAdjust="spacingAndGlyphs">CD74,</text>
<text x="343.00" y="390.39" font-size="4.9" fill="#a4a4ae" stroke="#a4a4ae" stroke-width="0.049" textLength="17.30" lengthAdjust="spacingAndGlyphs">HLA-DRB5</text>
<text x="379.80" y="410.29" font-size="4.9" fill="#2b4a87" stroke="#2b4a87" stroke-width="0.049" textLength="7.30" lengthAdjust="spacingAndGlyphs">BLK,</text>
<text x="379.80" y="415.49" font-size="4.9" fill="#2b4a87" stroke="#2b4a87" stroke-width="0.049" textLength="14.60" lengthAdjust="spacingAndGlyphs">KCNQ3</text>
<text x="384.00" y="383.39" font-size="4.9" fill="#a4a4ae" stroke="#a4a4ae" stroke-width="0.049" textLength="7.40" lengthAdjust="spacingAndGlyphs">STS,</text>
<text x="384.00" y="388.99" font-size="4.9" fill="#a4a4ae" stroke="#a4a4ae" stroke-width="0.049" textLength="7.40" lengthAdjust="spacingAndGlyphs">MET</text>
<text x="404.70" y="388.59" font-size="4.9" fill="#a4a4ae" stroke="#a4a4ae" stroke-width="0.049" textLength="14.40" lengthAdjust="spacingAndGlyphs">GABRE</text>
<text x="407.00" y="409.39" font-size="4.9" fill="#2b4a87" stroke="#2b4a87" stroke-width="0.049" textLength="13.50" lengthAdjust="spacingAndGlyphs">S1PR2</text>
<text x="436.30" y="407.69" font-size="4.9" fill="#2b4a87" stroke="#2b4a87" stroke-width="0.049" textLength="13.00" lengthAdjust="spacingAndGlyphs">TRPV1,</text>
<text x="436.30" y="413.39" font-size="4.9" fill="#2b4a87" stroke="#2b4a87" stroke-width="0.049" textLength="12.20" lengthAdjust="spacingAndGlyphs">CDK14</text>
<text x="438.90" y="389.49" font-size="4.9" fill="#a4a4ae" stroke="#a4a4ae" stroke-width="0.049" textLength="7.80" lengthAdjust="spacingAndGlyphs">TNF</text>
<text x="464.90" y="408.19" font-size="4.9" fill="#2b4a87" stroke="#2b4a87" stroke-width="0.049" textLength="13.30" lengthAdjust="spacingAndGlyphs">IGF1R,</text>
<text x="464.90" y="413.39" font-size="4.9" fill="#2b4a87" stroke="#2b4a87" stroke-width="0.049" textLength="17.30" lengthAdjust="spacingAndGlyphs">CHRNA1</text>
<line x1="273.40" y1="327.60" x2="279.30" y2="327.60" stroke="#444" stroke-width="0.7"/>
<line x1="340.00" y1="327.90" x2="345.10" y2="327.90" stroke="#444" stroke-width="0.7"/>
<line x1="376.00" y1="325.00" x2="381.90" y2="325.00" stroke="#444" stroke-width="0.7"/>
<line x1="409.80" y1="324.40" x2="416.00" y2="324.40" stroke="#444" stroke-width="0.7"/>
<line x1="440.50" y1="323.50" x2="442.30" y2="323.50" stroke="#444" stroke-width="0.7"/>
<line x1="272.30" y1="385.90" x2="277.80" y2="385.90" stroke="#444" stroke-width="0.7"/>
<line x1="300.00" y1="385.20" x2="305.50" y2="385.20" stroke="#444" stroke-width="0.7"/>
<line x1="331.50" y1="385.00" x2="337.20" y2="385.00" stroke="#444" stroke-width="0.7"/>
<line x1="361.50" y1="385.80" x2="366.50" y2="385.80" stroke="#444" stroke-width="0.7"/>
<line x1="393.50" y1="384.20" x2="399.50" y2="384.20" stroke="#444" stroke-width="0.7"/>
<line x1="420.40" y1="386.40" x2="425.40" y2="386.40" stroke="#444" stroke-width="0.7"/>
<line x1="448.10" y1="387.30" x2="454.00" y2="387.30" stroke="#444" stroke-width="0.7"/>
<line x1="284.60" y1="345.70" x2="288.70" y2="343.60" stroke="#222" stroke-width="0.6"/>
<line x1="320.70" y1="346.00" x2="325.50" y2="344.00" stroke="#222" stroke-width="0.6"/>
<line x1="350.50" y1="345.50" x2="355.30" y2="343.50" stroke="#222" stroke-width="0.6"/>
<line x1="387.50" y1="351.00" x2="390.00" y2="348.50" stroke="#222" stroke-width="0.6"/>
<line x1="421.50" y1="347.50" x2="424.00" y2="345.50" stroke="#222" stroke-width="0.6"/>
<line x1="448.00" y1="345.00" x2="452.80" y2="343.00" stroke="#222" stroke-width="0.6"/>
<line x1="283.50" y1="408.00" x2="287.00" y2="406.50" stroke="#222" stroke-width="0.6"/>
<line x1="311.50" y1="407.00" x2="316.00" y2="405.50" stroke="#222" stroke-width="0.6"/>
<line x1="343.00" y1="407.50" x2="347.50" y2="405.50" stroke="#222" stroke-width="0.6"/>
<line x1="372.50" y1="411.00" x2="379.00" y2="409.00" stroke="#222" stroke-width="0.6"/>
<line x1="405.00" y1="411.50" x2="407.50" y2="409.00" stroke="#222" stroke-width="0.6"/>
<line x1="431.00" y1="408.50" x2="435.50" y2="406.50" stroke="#222" stroke-width="0.6"/>
<line x1="459.50" y1="408.50" x2="464.00" y2="406.50" stroke="#222" stroke-width="0.6"/>
<text x="245.40" y="16.80" font-size="11.8" fill="#000" font-weight="bold" stroke="#000" stroke-width="0.35">C</text>
<text x="338.10" y="28.62" font-size="7.9" fill="#222" stroke="#222" stroke-width="0.079" textLength="94.30" lengthAdjust="spacingAndGlyphs">Evolution of Relapsed DLBCL</text>
<text x="279.00" y="39.23" font-size="4.6" fill="#2a2a2a" stroke="#2a2a2a" stroke-width="0.046" textLength="15.80" lengthAdjust="spacingAndGlyphs">Case P5</text>
<text x="282.30" y="44.73" font-size="4.6" fill="#2a2a2a" stroke="#2a2a2a" stroke-width="0.046" textLength="9.20" lengthAdjust="spacingAndGlyphs">ABC</text>
<text x="276.00" y="50.93" font-size="4.6" fill="#2a2a2a" stroke="#2a2a2a" stroke-width="0.046" textLength="20.90" lengthAdjust="spacingAndGlyphs">RCHOP-21</text>
<text x="284.00" y="57.33" font-size="4.6" fill="#2a2a2a" stroke="#2a2a2a" stroke-width="0.046" textLength="5.40" lengthAdjust="spacingAndGlyphs">PR</text>
<text x="273.80" y="63.23" font-size="4.6" fill="#2a2a2a" stroke="#2a2a2a" stroke-width="0.046" textLength="26.00" lengthAdjust="spacingAndGlyphs">Founder Clone</text>
<line x1="276.00" y1="52.50" x2="296.30" y2="52.50" stroke="#222" stroke-width="0.8" marker-end="url(#ah)"/>
<circle cx="286.90" cy="67.60" r="3.40" fill="#a4a8b8" stroke="#e05662" stroke-width="1.2"/>
<text x="286.90" y="68.80" font-size="3.2" fill="#444" stroke="#444" stroke-width="0.032" text-anchor="middle">f</text>
<clipPath id="c2644_529"><polygon points="271.40,52.90 271.11,54.08 271.29,55.41 270.23,56.27 269.93,57.54 268.92,58.29 267.76,58.72 266.86,59.65 265.56,59.50 264.40,60.01 263.23,59.53 262.09,59.25 260.85,59.05 259.57,58.66 259.20,57.26 258.43,56.35 257.53,55.40 256.87,54.23 257.14,52.90 257.44,51.67 257.19,50.28 258.59,49.55 258.62,48.05 259.93,47.57 261.00,47.00 262.08,46.53 263.19,46.03 264.40,45.39 265.59,46.16 266.88,46.08 268.06,46.56 268.93,47.50 269.94,48.25 270.22,49.54 270.72,50.60 271.17,51.71"/></clipPath>
<g clip-path="url(#c2644_529)"><path d="M256.26,44.76 L272.54,44.76 L272.54,50.68 Q264.40,51.58 256.26,50.68 Z" fill="#7a5420"/><path d="M256.26,49.88 L272.54,49.88 L272.54,61.34 Q264.40,62.24 256.26,61.34 Z" fill="#2f4a22"/><rect x="261.85" y="48.02" width="1" height="1" fill="#000" fill-opacity="0.25"/><rect x="259.62" y="49.85" width="1" height="1" fill="#000" fill-opacity="0.25"/><rect x="265.60" y="46.45" width="1" height="1" fill="#000" fill-opacity="0.25"/><rect x="259.11" y="49.98" width="1" height="1" fill="#fff" fill-opacity="0.25"/><rect x="263.39" y="48.46" width="1" height="1" fill="#fff" fill-opacity="0.25"/><rect x="267.43" y="55.63" width="1" height="1" fill="#fff" fill-opacity="0.25"/><rect x="266.89" y="56.62" width="1" height="1" fill="#000" fill-opacity="0.25"/><rect x="260.72" y="46.77" width="1" height="1" fill="#000" fill-opacity="0.25"/><rect x="266.84" y="49.48" width="1" height="1" fill="#fff" fill-opacity="0.25"/><rect x="259.23" y="49.25" width="1" height="1" fill="#000" fill-opacity="0.25"/><rect x="267.75" y="46.33" width="1" height="1" fill="#000" fill-opacity="0.25"/><rect x="262.96" y="50.84" width="1" height="1" fill="#fff" fill-opacity="0.25"/><rect x="259.46" y="46.51" width="1" height="1" fill="#fff" fill-opacity="0.25"/><rect x="262.91" y="56.89" width="1" height="1" fill="#fff" fill-opacity="0.25"/><rect x="268.88" y="53.11" width="1" height="1" fill="#000" fill-opacity="0.25"/><rect x="265.23" y="53.61" width="1" height="1" fill="#fff" fill-opacity="0.25"/><rect x="266.43" y="55.07" width="1" height="1" fill="#000" fill-opacity="0.25"/><rect x="265.35" y="50.88" width="1" height="1" fill="#000" fill-opacity="0.25"/><rect x="257.28" y="50.27" width="1" height="1" fill="#fff" fill-opacity="0.25"/><rect x="266.46" y="49.45" width="1" height="1" fill="#000" fill-opacity="0.25"/><rect x="259.51" y="57.80" width="1" height="1" fill="#fff" fill-opacity="0.25"/><rect x="265.71" y="54.92" width="1" height="1" fill="#000" fill-opacity="0.25"/><rect x="264.44" y="57.53" width="1" height="1" fill="#000" fill-opacity="0.25"/><rect x="263.86" y="52.87" width="1" height="1" fill="#000" fill-opacity="0.25"/><rect x="260.11" y="56.48" width="1" height="1" fill="#fff" fill-opacity="0.25"/><rect x="261.96" y="47.45" width="1" height="1" fill="#fff" fill-opacity="0.25"/><rect x="263.13" y="50.86" width="1" height="1" fill="#fff" fill-opacity="0.25"/><rect x="265.20" y="45.60" width="1" height="1" fill="#fff" fill-opacity="0.25"/><rect x="260.25" y="55.33" width="1" height="1" fill="#000" fill-opacity="0.25"/><rect x="262.67" y="51.02" width="1" height="1" fill="#000" fill-opacity="0.25"/><rect x="264.66" y="55.28" width="1" height="1" fill="#000" fill-opacity="0.25"/><rect x="264.01" y="52.44" width="1" height="1" fill="#000" fill-opacity="0.25"/><rect x="267.49" y="55.06" width="1" height="1" fill="#000" fill-opacity="0.25"/><rect x="267.98" y="48.28" width="1" height="1" fill="#000" fill-opacity="0.25"/><rect x="263.84" y="56.76" width="1" height="1" fill="#000" fill-opacity="0.25"/><rect x="268.79" y="57.16" width="1" height="1" fill="#fff" fill-opacity="0.25"/><rect x="258.87" y="53.49" width="1" height="1" fill="#000" fill-opacity="0.25"/><rect x="267.37" y="54.99" width="1" height="1" fill="#000" fill-opacity="0.25"/><rect x="265.31" y="49.78" width="1" height="1" fill="#000" fill-opacity="0.25"/><rect x="269.03" y="50.77" width="1" height="1" fill="#000" fill-opacity="0.25"/></g>
<clipPath id="c3066_523"><polygon points="313.63,52.30 313.01,53.43 313.19,54.70 313.07,56.03 312.23,57.02 311.22,57.80 309.97,58.14 308.94,58.74 307.75,58.85 306.60,59.56 305.38,59.21 304.12,59.13 303.19,58.20 302.29,57.44 301.01,56.99 300.13,56.04 299.70,54.81 299.42,53.57 299.30,52.30 299.48,51.05 300.30,50.01 300.54,48.80 301.36,47.90 302.42,47.31 303.35,46.66 304.29,45.95 305.43,45.66 306.60,45.12 307.89,44.97 308.97,45.79 310.31,45.87 311.41,46.57 312.30,47.52 312.53,48.88 312.90,50.01 313.21,51.14"/></clipPath>
<g clip-path="url(#c3066_523)"><path d="M298.68,44.38 L314.52,44.38 L314.52,53.75 Q306.60,54.65 298.68,53.75 Z" fill="#7d6a1e"/><path d="M298.68,52.95 L314.52,52.95 L314.52,56.06 Q306.60,56.96 298.68,56.06 Z" fill="#1e2a55"/><path d="M298.68,55.26 L314.52,55.26 L314.52,60.52 Q306.60,61.42 298.68,60.52 Z" fill="#4c5064"/><rect x="307.17" y="54.87" width="1" height="1" fill="#fff" fill-opacity="0.25"/><rect x="311.45" y="47.93" width="1" height="1" fill="#000" fill-opacity="0.25"/><rect x="302.41" y="46.52" width="1" height="1" fill="#000" fill-opacity="0.25"/><rect x="302.44" y="45.99" width="1" height="1" fill="#fff" fill-opacity="0.25"/><rect x="306.10" y="46.82" width="1" height="1" fill="#000" fill-opacity="0.25"/><rect x="307.11" y="47.77" width="1" height="1" fill="#fff" fill-opacity="0.25"/><rect x="310.56" y="51.00" width="1" height="1" fill="#000" fill-opacity="0.25"/><rect x="311.89" y="49.79" width="1" height="1" fill="#000" fill-opacity="0.25"/><rect x="308.05" y="53.80" width="1" height="1" fill="#fff" fill-opacity="0.25"/><rect x="307.06" y="49.22" width="1" height="1" fill="#fff" fill-opacity="0.25"/><rect x="311.89" y="51.08" width="1" height="1" fill="#000" fill-opacity="0.25"/><rect x="303.62" y="51.02" width="1" height="1" fill="#000" fill-opacity="0.25"/><rect x="311.81" y="50.74" width="1" height="1" fill="#000" fill-opacity="0.25"/><rect x="310.44" y="49.88" width="1" height="1" fill="#fff" fill-opacity="0.25"/><rect x="307.62" y="48.86" width="1" height="1" fill="#000" fill-opacity="0.25"/><rect x="305.16" y="55.20" width="1" height="1" fill="#000" fill-opacity="0.25"/><rect x="305.83" y="56.45" width="1" height="1" fill="#000" fill-opacity="0.25"/><rect x="309.72" y="49.51" width="1" height="1" fill="#000" fill-opacity="0.25"/><rect x="300.17" y="48.38" width="1" height="1" fill="#000" fill-opacity="0.25"/><rect x="310.53" y="49.28" width="1" height="1" fill="#000" fill-opacity="0.25"/><rect x="305.13" y="51.66" width="1" height="1" fill="#000" fill-opacity="0.25"/><rect x="306.28" y="52.21" width="1" height="1" fill="#fff" fill-opacity="0.25"/><rect x="308.42" y="56.18" width="1" height="1" fill="#fff" fill-opacity="0.25"/><rect x="302.25" y="50.37" width="1" height="1" fill="#000" fill-opacity="0.25"/><rect x="300.11" y="49.62" width="1" height="1" fill="#000" fill-opacity="0.25"/><rect x="302.77" y="50.47" width="1" height="1" fill="#000" fill-opacity="0.25"/><rect x="306.82" y="46.72" width="1" height="1" fill="#000" fill-opacity="0.25"/><rect x="306.53" y="44.94" width="1" height="1" fill="#000" fill-opacity="0.25"/><rect x="302.21" y="48.47" width="1" height="1" fill="#000" fill-opacity="0.25"/><rect x="304.39" y="47.27" width="1" height="1" fill="#000" fill-opacity="0.25"/><rect x="299.18" y="52.76" width="1" height="1" fill="#fff" fill-opacity="0.25"/><rect x="311.09" y="46.91" width="1" height="1" fill="#000" fill-opacity="0.25"/><rect x="299.59" y="49.25" width="1" height="1" fill="#fff" fill-opacity="0.25"/><rect x="307.74" y="53.71" width="1" height="1" fill="#000" fill-opacity="0.25"/><rect x="309.27" y="53.35" width="1" height="1" fill="#000" fill-opacity="0.25"/><rect x="303.01" y="46.22" width="1" height="1" fill="#fff" fill-opacity="0.25"/><rect x="309.54" y="56.83" width="1" height="1" fill="#fff" fill-opacity="0.25"/><rect x="310.31" y="57.09" width="1" height="1" fill="#fff" fill-opacity="0.25"/><rect x="307.43" y="58.70" width="1" height="1" fill="#000" fill-opacity="0.25"/><rect x="298.96" y="52.37" width="1" height="1" fill="#fff" fill-opacity="0.25"/></g>
<line x1="284.40" y1="70.20" x2="269.20" y2="83.40" stroke="#222" stroke-width="0.85" marker-end="url(#ah)"/>
<line x1="289.40" y1="70.20" x2="304.00" y2="83.40" stroke="#222" stroke-width="0.85" marker-end="url(#ah)"/>
<line x1="266.60" y1="89.80" x2="266.60" y2="100.60" stroke="#222" stroke-width="0.85" marker-end="url(#ah)"/>
<line x1="306.60" y1="89.80" x2="306.60" y2="100.60" stroke="#222" stroke-width="0.85" marker-end="url(#ah)"/>
<circle cx="266.60" cy="86.00" r="3.70" fill="#5aa83a" stroke="#6a7fc0" stroke-width="0.9"/>
<text x="260.40" y="87.50" font-size="4.2" fill="#4a64b0" stroke="#4a64b0" stroke-width="0.042">C</text>
<text x="271.00" y="87.50" font-size="4.2" fill="#4a64b0" stroke="#4a64b0" stroke-width="0.042">2</text>
<text x="266.60" y="87.20" font-size="2.6" fill="#55607a" stroke="#55607a" stroke-width="0.026" text-anchor="middle">lone</text>
<circle cx="306.60" cy="86.00" r="3.70" fill="#f2c21c" stroke="#e0505a" stroke-width="0.9"/>
<text x="300.40" y="87.50" font-size="4.2" fill="#4a64b0" stroke="#4a64b0" stroke-width="0.042">C</text>
<text x="311.00" y="87.50" font-size="4.2" fill="#4a64b0" stroke="#4a64b0" stroke-width="0.042">3</text>
<text x="306.60" y="87.20" font-size="2.6" fill="#55607a" stroke="#55607a" stroke-width="0.026" text-anchor="middle">lone</text>
<circle cx="266.60" cy="104.40" r="3.70" fill="#e8901e" stroke="#6a7fc0" stroke-width="0.9"/>
<text x="260.40" y="105.90" font-size="4.2" fill="#4a64b0" stroke="#4a64b0" stroke-width="0.042">C</text>
<text x="271.00" y="105.90" font-size="4.2" fill="#4a64b0" stroke="#4a64b0" stroke-width="0.042">4</text>
<text x="266.60" y="105.60" font-size="2.6" fill="#55607a" stroke="#55607a" stroke-width="0.026" text-anchor="middle">lone</text>
<circle cx="306.60" cy="104.40" r="3.70" fill="#48589a" stroke="#2a2a40" stroke-width="0.9"/>
<text x="300.40" y="105.90" font-size="4.2" fill="#4a64b0" stroke="#4a64b0" stroke-width="0.042">C</text>
<text x="311.00" y="105.90" font-size="4.2" fill="#4a64b0" stroke="#4a64b0" stroke-width="0.042">5</text>
<text x="306.60" y="105.60" font-size="2.6" fill="#55607a" stroke="#55607a" stroke-width="0.026" text-anchor="middle">lone</text>
<text x="280.60" y="117.93" font-size="4.6" fill="#2a2a2a" stroke="#2a2a2a" stroke-width="0.046" textLength="15.70" lengthAdjust="spacingAndGlyphs">Case P2</text>
<text x="281.30" y="123.83" font-size="4.6" fill="#2a2a2a" stroke="#2a2a2a" stroke-width="0.046" textLength="14.30" lengthAdjust="spacingAndGlyphs">PMBCL</text>
<text x="276.50" y="130.33" font-size="4.6" fill="#2a2a2a" stroke="#2a2a2a" stroke-width="0.046" textLength="23.30" lengthAdjust="spacingAndGlyphs">RCHOEP-14</text>
<text x="286.00" y="136.33" font-size="4.6" fill="#2a2a2a" stroke="#2a2a2a" stroke-width="0.046" textLength="5.30" lengthAdjust="spacingAndGlyphs">PD</text>
<text x="275.30" y="142.53" font-size="4.6" fill="#2a2a2a" stroke="#2a2a2a" stroke-width="0.046" textLength="26.60" lengthAdjust="spacingAndGlyphs">Founder Clone</text>
<line x1="280.00" y1="131.50" x2="299.40" y2="131.50" stroke="#222" stroke-width="0.8" marker-end="url(#ah)"/>
<circle cx="288.20" cy="147.30" r="3.40" fill="#a4a8b8" stroke="#e05662" stroke-width="1.2"/>
<text x="288.20" y="148.50" font-size="3.2" fill="#444" stroke="#444" stroke-width="0.032" text-anchor="middle">f</text>
<clipPath id="c2669_1313"><polygon points="273.36,131.30 273.52,132.47 273.29,133.63 272.64,134.62 271.87,135.47 271.15,136.37 270.40,137.37 269.06,137.24 268.09,138.04 266.90,138.03 265.80,137.52 264.63,137.53 263.44,137.29 262.53,136.51 262.03,135.39 260.61,134.93 260.25,133.72 259.76,132.56 260.50,131.30 260.44,130.16 260.94,129.13 260.78,127.77 261.87,127.08 262.77,126.38 263.54,125.49 264.44,124.54 265.67,124.31 266.90,124.75 268.02,124.95 269.36,124.53 270.33,125.36 271.39,125.95 271.79,127.19 272.40,128.12 273.45,128.91 273.51,130.13"/></clipPath>
<g clip-path="url(#c2669_1313)"><path d="M259.20,123.60 L274.60,123.60 L274.60,126.28 Q266.90,127.18 259.20,126.28 Z" fill="#1e2c5a"/><path d="M259.20,125.48 L274.60,125.48 L274.60,129.08 Q266.90,129.98 259.20,129.08 Z" fill="#6b5a20"/><path d="M259.20,128.28 L274.60,128.28 L274.60,139.30 Q266.90,140.20 259.20,139.30 Z" fill="#3c3e48"/><rect x="272.49" y="133.78" width="1" height="1" fill="#fff" fill-opacity="0.25"/><rect x="267.05" y="128.88" width="1" height="1" fill="#fff" fill-opacity="0.25"/><rect x="272.34" y="133.44" width="1" height="1" fill="#000" fill-opacity="0.25"/><rect x="263.63" y="135.21" width="1" height="1" fill="#fff" fill-opacity="0.25"/><rect x="266.12" y="133.30" width="1" height="1" fill="#000" fill-opacity="0.25"/><rect x="266.57" y="133.11" width="1" height="1" fill="#000" fill-opacity="0.25"/><rect x="269.39" y="131.78" width="1" height="1" fill="#000" fill-opacity="0.25"/><rect x="264.33" y="136.54" width="1" height="1" fill="#000" fill-opacity="0.25"/><rect x="263.45" y="130.80" width="1" height="1" fill="#000" fill-opacity="0.25"/><rect x="269.88" y="131.20" width="1" height="1" fill="#000" fill-opacity="0.25"/><rect x="265.85" y="125.63" width="1" height="1" fill="#000" fill-opacity="0.25"/><rect x="259.72" y="131.87" width="1" height="1" fill="#000" fill-opacity="0.25"/><rect x="268.33" y="126.62" width="1" height="1" fill="#000" fill-opacity="0.25"/><rect x="268.62" y="127.02" width="1" height="1" fill="#000" fill-opacity="0.25"/><rect x="263.75" y="124.39" width="1" height="1" fill="#000" fill-opacity="0.25"/><rect x="269.31" y="125.68" width="1" height="1" fill="#fff" fill-opacity="0.25"/><rect x="262.99" y="133.13" width="1" height="1" fill="#000" fill-opacity="0.25"/><rect x="267.68" y="132.16" width="1" height="1" fill="#fff" fill-opacity="0.25"/><rect x="266.30" y="133.63" width="1" height="1" fill="#000" fill-opacity="0.25"/><rect x="269.94" y="125.31" width="1" height="1" fill="#fff" fill-opacity="0.25"/><rect x="265.71" y="134.18" width="1" height="1" fill="#000" fill-opacity="0.25"/><rect x="263.71" y="131.50" width="1" height="1" fill="#000" fill-opacity="0.25"/><rect x="265.83" y="137.64" width="1" height="1" fill="#fff" fill-opacity="0.25"/><rect x="263.09" y="129.79" width="1" height="1" fill="#fff" fill-opacity="0.25"/><rect x="264.87" y="134.69" width="1" height="1" fill="#000" fill-opacity="0.25"/><rect x="262.85" y="134.07" width="1" height="1" fill="#000" fill-opacity="0.25"/><rect x="267.91" y="135.54" width="1" height="1" fill="#000" fill-opacity="0.25"/><rect x="266.21" y="132.89" width="1" height="1" fill="#000" fill-opacity="0.25"/><rect x="267.41" y="131.07" width="1" height="1" fill="#000" fill-opacity="0.25"/><rect x="266.98" y="136.13" width="1" height="1" fill="#000" fill-opacity="0.25"/><rect x="266.42" y="125.12" width="1" height="1" fill="#fff" fill-opacity="0.25"/><rect x="269.57" y="127.79" width="1" height="1" fill="#000" fill-opacity="0.25"/><rect x="269.09" y="130.54" width="1" height="1" fill="#fff" fill-opacity="0.25"/><rect x="265.49" y="129.65" width="1" height="1" fill="#fff" fill-opacity="0.25"/><rect x="270.71" y="127.32" width="1" height="1" fill="#fff" fill-opacity="0.25"/><rect x="267.40" y="128.38" width="1" height="1" fill="#000" fill-opacity="0.25"/><rect x="260.01" y="130.62" width="1" height="1" fill="#fff" fill-opacity="0.25"/><rect x="268.87" y="126.06" width="1" height="1" fill="#fff" fill-opacity="0.25"/><rect x="264.01" y="125.48" width="1" height="1" fill="#000" fill-opacity="0.25"/><rect x="268.90" y="131.30" width="1" height="1" fill="#000" fill-opacity="0.25"/></g>
<clipPath id="c3088_1319"><polygon points="315.57,131.90 316.21,133.21 315.60,134.38 315.13,135.56 314.40,136.60 313.53,137.54 312.38,138.11 311.08,138.16 310.10,139.27 308.80,139.34 307.55,138.97 306.33,138.68 305.13,138.26 304.48,137.05 303.11,136.67 302.81,135.36 302.47,134.20 301.97,133.10 301.38,131.90 302.03,130.71 301.82,129.36 302.16,128.06 303.31,127.29 304.26,126.49 305.22,125.70 306.28,124.98 307.51,124.56 308.80,124.60 310.07,124.69 311.11,125.57 312.21,126.00 313.25,126.60 314.49,127.12 314.84,128.41 315.61,129.42 315.37,130.74"/></clipPath>
<g clip-path="url(#c3088_1319)"><path d="M300.66,123.76 L316.94,123.76 L316.94,127.02 Q308.80,127.92 300.66,127.02 Z" fill="#1e2c5a"/><path d="M300.66,126.22 L316.94,126.22 L316.94,140.34 Q308.80,141.24 300.66,140.34 Z" fill="#9a7420"/><rect x="311.86" y="132.83" width="1" height="1" fill="#fff" fill-opacity="0.25"/><rect x="306.14" y="125.71" width="1" height="1" fill="#000" fill-opacity="0.25"/><rect x="303.28" y="130.88" width="1" height="1" fill="#000" fill-opacity="0.25"/><rect x="313.44" y="136.14" width="1" height="1" fill="#000" fill-opacity="0.25"/><rect x="315.39" y="130.42" width="1" height="1" fill="#000" fill-opacity="0.25"/><rect x="301.82" y="133.11" width="1" height="1" fill="#fff" fill-opacity="0.25"/><rect x="304.66" y="132.60" width="1" height="1" fill="#000" fill-opacity="0.25"/><rect x="311.50" y="130.26" width="1" height="1" fill="#000" fill-opacity="0.25"/><rect x="311.67" y="135.56" width="1" height="1" fill="#fff" fill-opacity="0.25"/><rect x="312.81" y="136.36" width="1" height="1" fill="#000" fill-opacity="0.25"/><rect x="313.00" y="127.35" width="1" height="1" fill="#000" fill-opacity="0.25"/><rect x="312.43" y="128.31" width="1" height="1" fill="#000" fill-opacity="0.25"/><rect x="313.49" y="131.52" width="1" height="1" fill="#000" fill-opacity="0.25"/><rect x="307.41" y="134.03" width="1" height="1" fill="#000" fill-opacity="0.25"/><rect x="305.56" y="137.61" width="1" height="1" fill="#000" fill-opacity="0.25"/><rect x="308.33" y="124.62" width="1" height="1" fill="#000" fill-opacity="0.25"/><rect x="313.89" y="128.61" width="1" height="1" fill="#fff" fill-opacity="0.25"/><rect x="307.18" y="135.77" width="1" height="1" fill="#000" fill-opacity="0.25"/><rect x="313.98" y="131.36" width="1" height="1" fill="#000" fill-opacity="0.25"/><rect x="304.81" y="133.10" width="1" height="1" fill="#000" fill-opacity="0.25"/><rect x="313.73" y="135.43" width="1" height="1" fill="#000" fill-opacity="0.25"/><rect x="311.70" y="129.95" width="1" height="1" fill="#000" fill-opacity="0.25"/><rect x="305.08" y="131.18" width="1" height="1" fill="#000" fill-opacity="0.25"/><rect x="315.00" y="129.51" width="1" height="1" fill="#fff" fill-opacity="0.25"/><rect x="303.49" y="126.22" width="1" height="1" fill="#fff" fill-opacity="0.25"/><rect x="302.32" y="129.49" width="1" height="1" fill="#000" fill-opacity="0.25"/><rect x="307.75" y="126.46" width="1" height="1" fill="#fff" fill-opacity="0.25"/><rect x="305.86" y="128.28" width="1" height="1" fill="#000" fill-opacity="0.25"/><rect x="310.67" y="130.23" width="1" height="1" fill="#000" fill-opacity="0.25"/><rect x="306.06" y="134.76" width="1" height="1" fill="#fff" fill-opacity="0.25"/><rect x="312.03" y="130.84" width="1" height="1" fill="#fff" fill-opacity="0.25"/><rect x="306.57" y="136.64" width="1" height="1" fill="#000" fill-opacity="0.25"/><rect x="309.78" y="133.98" width="1" height="1" fill="#000" fill-opacity="0.25"/><rect x="312.63" y="128.49" width="1" height="1" fill="#000" fill-opacity="0.25"/><rect x="314.44" y="127.30" width="1" height="1" fill="#000" fill-opacity="0.25"/><rect x="310.38" y="133.90" width="1" height="1" fill="#000" fill-opacity="0.25"/><rect x="307.08" y="133.27" width="1" height="1" fill="#000" fill-opacity="0.25"/><rect x="308.01" y="136.98" width="1" height="1" fill="#fff" fill-opacity="0.25"/><rect x="308.29" y="126.65" width="1" height="1" fill="#000" fill-opacity="0.25"/><rect x="303.81" y="130.71" width="1" height="1" fill="#000" fill-opacity="0.25"/></g>
<line x1="285.80" y1="150.00" x2="272.80" y2="164.40" stroke="#222" stroke-width="0.85" marker-end="url(#ah)"/>
<line x1="290.60" y1="150.00" x2="304.20" y2="164.40" stroke="#222" stroke-width="0.85" marker-end="url(#ah)"/>
<line x1="306.70" y1="171.00" x2="306.70" y2="182.40" stroke="#222" stroke-width="0.85" marker-end="url(#ah)"/>
<circle cx="270.20" cy="167.20" r="3.70" fill="#5aa83a" stroke="#6a7fc0" stroke-width="0.9"/>
<text x="264.00" y="168.70" font-size="4.2" fill="#4a64b0" stroke="#4a64b0" stroke-width="0.042">C</text>
<text x="274.60" y="168.70" font-size="4.2" fill="#4a64b0" stroke="#4a64b0" stroke-width="0.042">3</text>
<text x="270.20" y="168.40" font-size="2.6" fill="#55607a" stroke="#55607a" stroke-width="0.026" text-anchor="middle">lone</text>
<circle cx="306.70" cy="167.20" r="3.70" fill="#f2c21c" stroke="#e0505a" stroke-width="0.9"/>
<text x="300.50" y="168.70" font-size="4.2" fill="#4a64b0" stroke="#4a64b0" stroke-width="0.042">C</text>
<text x="311.10" y="168.70" font-size="4.2" fill="#4a64b0" stroke="#4a64b0" stroke-width="0.042">2</text>
<text x="306.70" y="168.40" font-size="2.6" fill="#55607a" stroke="#55607a" stroke-width="0.026" text-anchor="middle">lone</text>
<circle cx="306.70" cy="186.20" r="3.70" fill="#48589a" stroke="#2a2a40" stroke-width="0.9"/>
<text x="300.50" y="187.70" font-size="4.2" fill="#4a64b0" stroke="#4a64b0" stroke-width="0.042">C</text>
<text x="311.10" y="187.70" font-size="4.2" fill="#4a64b0" stroke="#4a64b0" stroke-width="0.042">4</text>
<text x="306.70" y="187.40" font-size="2.6" fill="#55607a" stroke="#55607a" stroke-width="0.026" text-anchor="middle">lone</text>
<text x="280.00" y="195.03" font-size="4.6" fill="#2a2a2a" stroke="#2a2a2a" stroke-width="0.046" textLength="16.30" lengthAdjust="spacingAndGlyphs">Case P9</text>
<text x="281.90" y="201.03" font-size="4.6" fill="#2a2a2a" stroke="#2a2a2a" stroke-width="0.046" textLength="12.90" lengthAdjust="spacingAndGlyphs">PTLPD</text>
<text x="277.50" y="207.93" font-size="4.6" fill="#2a2a2a" stroke="#2a2a2a" stroke-width="0.046" textLength="21.30" lengthAdjust="spacingAndGlyphs">RCHOP-21</text>
<text x="285.00" y="214.73" font-size="4.6" fill="#2a2a2a" stroke="#2a2a2a" stroke-width="0.046" textLength="3.60" lengthAdjust="spacingAndGlyphs">CR</text>
<text x="275.00" y="220.03" font-size="4.6" fill="#2a2a2a" stroke="#2a2a2a" stroke-width="0.046" textLength="26.50" lengthAdjust="spacingAndGlyphs">Founder Clone</text>
<line x1="278.00" y1="209.40" x2="297.50" y2="209.40" stroke="#222" stroke-width="0.8" marker-end="url(#ah)"/>
<circle cx="288.10" cy="224.50" r="3.40" fill="#a4a8b8" stroke="#e05662" stroke-width="1.2"/>
<text x="288.10" y="225.70" font-size="3.2" fill="#444" stroke="#444" stroke-width="0.032" text-anchor="middle">f</text>
<clipPath id="c2644_2094"><polygon points="271.12,209.40 271.24,210.61 271.60,212.02 270.28,212.80 269.90,214.02 269.10,215.00 268.18,215.94 266.75,215.87 265.61,216.24 264.40,216.32 263.17,216.37 261.96,216.09 260.58,216.02 259.55,215.18 258.61,214.26 258.61,212.74 258.11,211.69 257.12,210.68 256.81,209.40 257.36,208.16 257.57,206.91 258.63,206.07 258.99,204.86 259.50,203.56 260.64,202.89 261.82,202.31 263.07,201.85 264.40,202.48 265.58,202.73 266.73,202.99 268.00,203.16 269.14,203.76 270.25,204.49 270.82,205.70 271.29,206.89 271.74,208.11"/></clipPath>
<g clip-path="url(#c2644_2094)"><path d="M256.26,201.26 L272.54,201.26 L272.54,217.84 Q264.40,218.74 256.26,217.84 Z" fill="#2e4a22"/><rect x="258.60" y="210.36" width="1" height="1" fill="#000" fill-opacity="0.25"/><rect x="264.62" y="205.40" width="1" height="1" fill="#fff" fill-opacity="0.25"/><rect x="261.41" y="205.67" width="1" height="1" fill="#000" fill-opacity="0.25"/><rect x="263.83" y="214.80" width="1" height="1" fill="#fff" fill-opacity="0.25"/><rect x="265.40" y="210.17" width="1" height="1" fill="#000" fill-opacity="0.25"/><rect x="259.90" y="206.61" width="1" height="1" fill="#000" fill-opacity="0.25"/><rect x="263.29" y="208.45" width="1" height="1" fill="#000" fill-opacity="0.25"/><rect x="256.87" y="210.67" width="1" height="1" fill="#fff" fill-opacity="0.25"/><rect x="267.70" y="205.50" width="1" height="1" fill="#000" fill-opacity="0.25"/><rect x="264.03" y="216.15" width="1" height="1" fill="#fff" fill-opacity="0.25"/><rect x="263.51" y="209.92" width="1" height="1" fill="#000" fill-opacity="0.25"/><rect x="261.71" y="204.63" width="1" height="1" fill="#000" fill-opacity="0.25"/><rect x="260.37" y="202.72" width="1" height="1" fill="#000" fill-opacity="0.25"/><rect x="268.10" y="209.81" width="1" height="1" fill="#000" fill-opacity="0.25"/><rect x="262.55" y="205.90" width="1" height="1" fill="#fff" fill-opacity="0.25"/><rect x="263.54" y="203.65" width="1" height="1" fill="#000" fill-opacity="0.25"/><rect x="267.96" y="208.12" width="1" height="1" fill="#fff" fill-opacity="0.25"/><rect x="264.32" y="212.36" width="1" height="1" fill="#fff" fill-opacity="0.25"/><rect x="261.89" y="215.83" width="1" height="1" fill="#000" fill-opacity="0.25"/><rect x="265.24" y="212.13" width="1" height="1" fill="#000" fill-opacity="0.25"/><rect x="260.24" y="202.69" width="1" height="1" fill="#000" fill-opacity="0.25"/><rect x="261.22" y="211.02" width="1" height="1" fill="#fff" fill-opacity="0.25"/><rect x="264.96" y="210.21" width="1" height="1" fill="#000" fill-opacity="0.25"/><rect x="258.40" y="213.26" width="1" height="1" fill="#fff" fill-opacity="0.25"/><rect x="263.10" y="201.55" width="1" height="1" fill="#fff" fill-opacity="0.25"/><rect x="262.38" y="211.70" width="1" height="1" fill="#fff" fill-opacity="0.25"/><rect x="263.87" y="207.58" width="1" height="1" fill="#fff" fill-opacity="0.25"/><rect x="260.63" y="212.03" width="1" height="1" fill="#000" fill-opacity="0.25"/><rect x="264.09" y="209.25" width="1" height="1" fill="#000" fill-opacity="0.25"/><rect x="259.59" y="214.71" width="1" height="1" fill="#000" fill-opacity="0.25"/><rect x="267.19" y="208.15" width="1" height="1" fill="#000" fill-opacity="0.25"/><rect x="266.82" y="202.86" width="1" height="1" fill="#000" fill-opacity="0.25"/><rect x="268.75" y="210.45" width="1" height="1" fill="#000" fill-opacity="0.25"/><rect x="266.74" y="207.32" width="1" height="1" fill="#000" fill-opacity="0.25"/><rect x="264.93" y="208.12" width="1" height="1" fill="#000" fill-opacity="0.25"/><rect x="266.35" y="202.90" width="1" height="1" fill="#000" fill-opacity="0.25"/><rect x="265.71" y="209.30" width="1" height="1" fill="#fff" fill-opacity="0.25"/><rect x="263.62" y="215.29" width="1" height="1" fill="#fff" fill-opacity="0.25"/><rect x="261.85" y="212.17" width="1" height="1" fill="#fff" fill-opacity="0.25"/><rect x="261.09" y="206.36" width="1" height="1" fill="#fff" fill-opacity="0.25"/></g>
<clipPath id="c3094_2088"><polygon points="316.39,208.80 316.24,210.01 315.66,211.08 315.85,212.52 315.23,213.69 314.10,214.40 313.22,215.41 311.69,215.08 310.60,215.60 309.40,215.95 308.07,216.33 306.78,215.99 305.87,214.91 304.95,214.10 303.96,213.37 303.19,212.39 302.24,211.41 302.65,209.99 301.91,208.80 302.09,207.51 302.34,206.23 302.94,205.07 303.82,204.11 304.90,203.44 305.90,202.75 306.99,202.19 308.10,201.44 309.40,202.06 310.59,202.04 311.94,201.81 312.86,202.81 313.72,203.65 314.53,204.50 315.66,205.18 315.98,206.41 316.96,207.47"/></clipPath>
<g clip-path="url(#c3094_2088)"><path d="M301.26,200.66 L317.54,200.66 L317.54,203.92 Q309.40,204.82 301.26,203.92 Z" fill="#1e2c5a"/><path d="M301.26,203.12 L317.54,203.12 L317.54,212.36 Q309.40,213.26 301.26,212.36 Z" fill="#6e6020"/><path d="M301.26,211.56 L317.54,211.56 L317.54,217.24 Q309.40,218.14 301.26,217.24 Z" fill="#4a4e60"/><rect x="314.37" y="203.38" width="1" height="1" fill="#000" fill-opacity="0.25"/><rect x="310.88" y="209.46" width="1" height="1" fill="#000" fill-opacity="0.25"/><rect x="307.66" y="203.51" width="1" height="1" fill="#000" fill-opacity="0.25"/><rect x="303.85" y="211.21" width="1" height="1" fill="#fff" fill-opacity="0.25"/><rect x="308.81" y="201.49" width="1" height="1" fill="#fff" fill-opacity="0.25"/><rect x="313.81" y="212.98" width="1" height="1" fill="#000" fill-opacity="0.25"/><rect x="304.77" y="206.46" width="1" height="1" fill="#fff" fill-opacity="0.25"/><rect x="310.06" y="211.79" width="1" height="1" fill="#000" fill-opacity="0.25"/><rect x="312.87" y="214.01" width="1" height="1" fill="#000" fill-opacity="0.25"/><rect x="306.75" y="212.43" width="1" height="1" fill="#fff" fill-opacity="0.25"/><rect x="305.34" y="208.14" width="1" height="1" fill="#fff" fill-opacity="0.25"/><rect x="304.70" y="202.25" width="1" height="1" fill="#000" fill-opacity="0.25"/><rect x="302.29" y="209.36" width="1" height="1" fill="#fff" fill-opacity="0.25"/><rect x="310.18" y="207.54" width="1" height="1" fill="#000" fill-opacity="0.25"/><rect x="311.26" y="210.49" width="1" height="1" fill="#fff" fill-opacity="0.25"/><rect x="302.72" y="204.74" width="1" height="1" fill="#000" fill-opacity="0.25"/><rect x="312.21" y="204.60" width="1" height="1" fill="#000" fill-opacity="0.25"/><rect x="310.15" y="201.21" width="1" height="1" fill="#000" fill-opacity="0.25"/><rect x="304.10" y="204.99" width="1" height="1" fill="#000" fill-opacity="0.25"/><rect x="307.01" y="210.34" width="1" height="1" fill="#000" fill-opacity="0.25"/><rect x="308.72" y="214.03" width="1" height="1" fill="#fff" fill-opacity="0.25"/><rect x="309.13" y="209.06" width="1" height="1" fill="#000" fill-opacity="0.25"/><rect x="307.51" y="205.43" width="1" height="1" fill="#000" fill-opacity="0.25"/><rect x="310.80" y="214.62" width="1" height="1" fill="#000" fill-opacity="0.25"/><rect x="311.07" y="209.21" width="1" height="1" fill="#000" fill-opacity="0.25"/><rect x="303.27" y="206.47" width="1" height="1" fill="#000" fill-opacity="0.25"/><rect x="312.08" y="213.59" width="1" height="1" fill="#000" fill-opacity="0.25"/><rect x="308.05" y="212.31" width="1" height="1" fill="#fff" fill-opacity="0.25"/><rect x="306.77" y="213.45" width="1" height="1" fill="#000" fill-opacity="0.25"/><rect x="302.95" y="211.75" width="1" height="1" fill="#fff" fill-opacity="0.25"/><rect x="306.75" y="210.78" width="1" height="1" fill="#fff" fill-opacity="0.25"/><rect x="309.06" y="208.84" width="1" height="1" fill="#fff" fill-opacity="0.25"/><rect x="302.95" y="211.39" width="1" height="1" fill="#000" fill-opacity="0.25"/><rect x="312.62" y="204.93" width="1" height="1" fill="#000" fill-opacity="0.25"/><rect x="314.37" y="208.81" width="1" height="1" fill="#fff" fill-opacity="0.25"/><rect x="310.76" y="207.11" width="1" height="1" fill="#fff" fill-opacity="0.25"/><rect x="305.28" y="212.11" width="1" height="1" fill="#000" fill-opacity="0.25"/><rect x="307.79" y="213.53" width="1" height="1" fill="#fff" fill-opacity="0.25"/><rect x="312.92" y="211.57" width="1" height="1" fill="#fff" fill-opacity="0.25"/><rect x="312.12" y="207.62" width="1" height="1" fill="#000" fill-opacity="0.25"/></g>
<line x1="285.70" y1="227.10" x2="270.40" y2="240.40" stroke="#222" stroke-width="0.85" marker-end="url(#ah)"/>
<line x1="290.50" y1="227.10" x2="305.20" y2="240.40" stroke="#222" stroke-width="0.85" marker-end="url(#ah)"/>
<line x1="308.00" y1="247.10" x2="308.00" y2="258.10" stroke="#222" stroke-width="0.85" marker-end="url(#ah)"/>
<circle cx="267.60" cy="243.30" r="3.70" fill="#5aa83a" stroke="#6a7fc0" stroke-width="0.9"/>
<text x="261.40" y="244.80" font-size="4.2" fill="#4a64b0" stroke="#4a64b0" stroke-width="0.042">C</text>
<text x="272.00" y="244.80" font-size="4.2" fill="#4a64b0" stroke="#4a64b0" stroke-width="0.042">2</text>
<text x="267.60" y="244.50" font-size="2.6" fill="#55607a" stroke="#55607a" stroke-width="0.026" text-anchor="middle">lone</text>
<circle cx="308.00" cy="243.30" r="3.70" fill="#f2c21c" stroke="#e0505a" stroke-width="0.9"/>
<text x="301.80" y="244.80" font-size="4.2" fill="#4a64b0" stroke="#4a64b0" stroke-width="0.042">C</text>
<text x="312.40" y="244.80" font-size="4.2" fill="#4a64b0" stroke="#4a64b0" stroke-width="0.042">3</text>
<text x="308.00" y="244.50" font-size="2.6" fill="#55607a" stroke="#55607a" stroke-width="0.026" text-anchor="middle">lone</text>
<circle cx="308.00" cy="261.90" r="3.70" fill="#48589a" stroke="#2a2a40" stroke-width="0.9"/>
<text x="301.80" y="263.40" font-size="4.2" fill="#4a64b0" stroke="#4a64b0" stroke-width="0.042">C</text>
<text x="312.40" y="263.40" font-size="4.2" fill="#4a64b0" stroke="#4a64b0" stroke-width="0.042">4</text>
<text x="308.00" y="263.10" font-size="2.6" fill="#55607a" stroke="#55607a" stroke-width="0.026" text-anchor="middle">lone</text>
<rect x="321.30" y="50.40" width="189.30" height="46.50" fill="none" stroke="#111" stroke-width="1.3"/>
<path d="M327.0,73.7 L330.80,73.00 C331.30,72.67 332.72,72.02 333.80,71.00 C334.88,69.98 336.12,68.37 337.30,66.90 C338.48,65.43 339.72,63.68 340.90,62.20 C342.08,60.72 343.22,59.18 344.40,58.00 C345.58,56.82 346.82,55.90 348.00,55.10 C349.18,54.30 350.33,53.68 351.50,53.20 C352.67,52.72 354.12,52.42 355.00,52.20 C355.88,51.98 355.13,51.67 356.80,51.90 C358.47,52.13 361.13,52.48 365.00,53.60 C368.87,54.72 375.00,56.93 380.00,58.60 C385.00,60.27 390.00,62.17 395.00,63.60 C400.00,65.03 405.83,66.42 410.00,67.20 C414.17,67.98 416.67,68.13 420.00,68.30 C423.33,68.47 425.83,68.48 430.00,68.20 C434.17,67.92 440.00,67.63 445.00,66.60 C450.00,65.57 455.00,63.48 460.00,62.00 C465.00,60.52 470.00,59.07 475.00,57.70 C480.00,56.33 485.25,54.68 490.00,53.80 C494.75,52.92 501.25,52.63 503.50,52.40 L503.50,95.00 C501.25,94.63 494.75,93.92 490.00,92.80 C485.25,91.68 480.00,89.82 475.00,88.30 C470.00,86.78 465.00,84.98 460.00,83.70 C455.00,82.42 450.00,81.28 445.00,80.60 C440.00,79.92 434.17,79.73 430.00,79.60 C425.83,79.47 423.33,79.62 420.00,79.80 C416.67,79.98 414.17,80.03 410.00,80.70 C405.83,81.37 400.00,82.32 395.00,83.80 C390.00,85.28 385.00,87.93 380.00,89.60 C375.00,91.27 368.87,92.87 365.00,93.80 C361.13,94.73 358.47,95.02 356.80,95.20 C355.13,95.38 355.88,95.10 355.00,94.90 C354.12,94.70 352.67,94.45 351.50,94.00 C350.33,93.55 349.18,93.00 348.00,92.20 C346.82,91.40 345.58,90.35 344.40,89.20 C343.22,88.05 342.08,86.70 340.90,85.30 C339.72,83.90 338.48,82.23 337.30,80.80 C336.12,79.37 334.88,77.75 333.80,76.70 C332.72,75.65 331.30,74.87 330.80,74.50 Z" fill="#a2a3b6" stroke="#8a8ba0" stroke-width="0.5"/>
<path d="M349.70,73.70 C349.95,72.83 350.72,70.37 351.20,68.50 C351.68,66.63 352.10,64.50 352.60,62.50 C353.10,60.50 353.53,58.08 354.20,56.50 C354.87,54.92 354.80,53.22 356.60,53.00 C358.40,52.78 361.10,53.83 365.00,55.20 C368.90,56.57 375.00,59.03 380.00,61.20 C385.00,63.37 391.33,66.47 395.00,68.20 C398.67,69.93 399.75,70.67 402.00,71.60 C404.25,72.53 407.42,73.43 408.50,73.80 L408.50,73.80 C407.42,74.18 404.25,75.15 402.00,76.10 C399.75,77.05 398.67,77.75 395.00,79.50 C391.33,81.25 385.00,84.47 380.00,86.60 C375.00,88.73 368.90,91.00 365.00,92.30 C361.10,93.60 358.40,94.63 356.60,94.40 C354.80,94.17 354.87,92.48 354.20,90.90 C353.53,89.32 353.10,86.90 352.60,84.90 C352.10,82.90 351.68,80.77 351.20,78.90 C350.72,77.03 349.95,74.57 349.70,73.70 Z" fill="#69a843" stroke="#587a48" stroke-width="0.4"/>
<path d="M352.90,73.70 C353.13,73.33 353.82,72.13 354.30,71.50 C354.78,70.87 354.02,70.18 355.80,69.90 C357.58,69.62 360.97,69.68 365.00,69.80 C369.03,69.92 375.00,70.23 380.00,70.60 C385.00,70.97 390.75,71.48 395.00,72.00 C399.25,72.52 403.75,73.42 405.50,73.70 L405.50,73.70 C403.75,74.00 399.25,74.97 395.00,75.50 C390.75,76.03 385.00,76.55 380.00,76.90 C375.00,77.25 369.03,77.48 365.00,77.60 C360.97,77.72 357.58,77.88 355.80,77.60 C354.02,77.32 354.78,76.55 354.30,75.90 C353.82,75.25 353.13,74.07 352.90,73.70 Z" fill="#e38e1a" stroke="#9a7040" stroke-width="0.3"/>
<polygon points="404.00,73.00 414.50,74.00 404.00,75.20" fill="#6c7088" stroke="none" stroke-width="1"/>
<path d="M428.10,73.80 C429.25,73.65 432.18,73.38 435.00,72.90 C437.82,72.42 440.83,71.83 445.00,70.90 C449.17,69.97 455.00,68.57 460.00,67.30 C465.00,66.03 470.00,64.52 475.00,63.30 C480.00,62.08 485.25,60.78 490.00,60.00 C494.75,59.22 501.25,58.83 503.50,58.60 L503.50,88.00 C501.25,87.72 494.75,87.18 490.00,86.30 C485.25,85.42 480.00,83.82 475.00,82.70 C470.00,81.58 465.00,80.67 460.00,79.60 C455.00,78.53 449.17,77.13 445.00,76.30 C440.83,75.47 437.82,75.02 435.00,74.60 C432.18,74.18 429.25,73.93 428.10,73.80 Z" fill="#f0c01c" stroke="#8f93b8" stroke-width="0.4"/>
<polygon points="499.30,74.20 503.50,70.60 503.50,77.80" fill="#2c3f7a" stroke="none" stroke-width="1"/>
<line x1="356.60" y1="51.00" x2="356.60" y2="96.40" stroke="#ffffff" stroke-width="0.8" stroke-opacity="0.55"/>
<text x="349.90" y="47.80" font-size="5.8" fill="#222" stroke="#222" stroke-width="0.058" textLength="13.10" lengthAdjust="spacingAndGlyphs">Day 0</text>
<text x="493.20" y="47.80" font-size="5.8" fill="#222" stroke="#222" stroke-width="0.058" textLength="19.00" lengthAdjust="spacingAndGlyphs">Day 381</text>
<text x="323.50" y="56.18" font-size="4.6" fill="#c0183e" stroke="#c0183e" stroke-width="0.046" textLength="21.70" lengthAdjust="spacingAndGlyphs">HLA-A LOH</text>
<text x="323.50" y="60.78" font-size="4.6" fill="#222" stroke="#222" stroke-width="0.046" textLength="10.00" lengthAdjust="spacingAndGlyphs">CD74</text>
<text x="323.50" y="65.78" font-size="4.6" fill="#222" stroke="#222" stroke-width="0.046" textLength="12.70" lengthAdjust="spacingAndGlyphs">MYD88</text>
<text x="323.50" y="70.58" font-size="4.6" fill="#222" stroke="#222" stroke-width="0.046" textLength="8.30" lengthAdjust="spacingAndGlyphs">PIM1</text>
<line x1="338.50" y1="65.20" x2="345.50" y2="74.40" stroke="#111" stroke-width="0.9"/>
<text x="374.00" y="54.78" font-size="4.6" fill="#222" stroke="#222" stroke-width="0.046" textLength="13.20" lengthAdjust="spacingAndGlyphs">CASP8</text>
<line x1="383.60" y1="55.60" x2="390.90" y2="69.10" stroke="#111" stroke-width="0.9"/>
<text x="422.90" y="90.28" font-size="4.6" fill="#c0183e" stroke="#c0183e" stroke-width="0.046" textLength="21.60" lengthAdjust="spacingAndGlyphs">HLA-B LOH</text>
<text x="422.90" y="94.48" font-size="4.6" fill="#c0183e" stroke="#c0183e" stroke-width="0.046" textLength="21.60" lengthAdjust="spacingAndGlyphs">HLA-C LOH</text>
<line x1="447.50" y1="90.60" x2="454.60" y2="74.70" stroke="#111" stroke-width="0.9"/>
<text x="446.30" y="55.78" font-size="4.6" fill="#c0183e" stroke="#c0183e" stroke-width="0.046" textLength="26.20" lengthAdjust="spacingAndGlyphs">HLA-A Y163H</text>
<text x="446.30" y="60.78" font-size="4.6" fill="#c0183e" stroke="#c0183e" stroke-width="0.046" textLength="9.60" lengthAdjust="spacingAndGlyphs">TAP1</text>
<text x="446.30" y="65.78" font-size="4.6" fill="#333" stroke="#333" stroke-width="0.046" textLength="10.20" lengthAdjust="spacingAndGlyphs">PSMB8</text>
<text x="446.30" y="70.88" font-size="4.6" fill="#333" stroke="#333" stroke-width="0.046" textLength="8.70" lengthAdjust="spacingAndGlyphs">PIM2</text>
<line x1="459.00" y1="57.20" x2="466.70" y2="70.70" stroke="#111" stroke-width="0.9"/>
<text x="468.60" y="77.58" font-size="4.6" fill="#111" stroke="#111" stroke-width="0.046" textLength="21.90" lengthAdjust="spacingAndGlyphs">MAPKAPK3</text>
<line x1="488.40" y1="77.90" x2="501.90" y2="73.90" stroke="#111" stroke-width="0.9"/>
<text x="468.60" y="84.08" font-size="4.6" fill="#d0381e" stroke="#d0381e" stroke-width="0.046" textLength="26.20" lengthAdjust="spacingAndGlyphs">HLA-A A260T</text>
<rect x="329.20" y="101.90" width="2.80" height="2.80" fill="#555" stroke="none" stroke-width="1"/>
<text x="334.00" y="105.23" font-size="5.6" fill="#222" stroke="#222" stroke-width="0.056" textLength="20.60" lengthAdjust="spacingAndGlyphs">Founding</text>
<rect x="362.40" y="101.90" width="2.80" height="2.80" fill="#3d7a28" stroke="none" stroke-width="1"/>
<text x="367.70" y="105.23" font-size="5.6" fill="#222" stroke="#222" stroke-width="0.056" textLength="25.80" lengthAdjust="spacingAndGlyphs">Subclone 2</text>
<rect x="401.40" y="101.90" width="2.80" height="2.80" fill="#b07010" stroke="none" stroke-width="1"/>
<text x="406.90" y="105.23" font-size="5.6" fill="#222" stroke="#222" stroke-width="0.056" textLength="25.40" lengthAdjust="spacingAndGlyphs">Subclone 3</text>
<rect x="440.80" y="101.90" width="2.80" height="2.80" fill="#a05a10" stroke="none" stroke-width="1"/>
<text x="445.50" y="105.23" font-size="5.6" fill="#222" stroke="#222" stroke-width="0.056" textLength="24.90" lengthAdjust="spacingAndGlyphs">Subclone 4</text>
<rect x="479.40" y="101.90" width="2.80" height="2.80" fill="#1a2a60" stroke="none" stroke-width="1"/>
<text x="483.50" y="105.23" font-size="5.6" fill="#222" stroke="#222" stroke-width="0.056" textLength="25.50" lengthAdjust="spacingAndGlyphs">Subclone 5</text>
<rect x="321.70" y="129.60" width="188.10" height="45.70" fill="none" stroke="#111" stroke-width="1.3"/>
<path d="M329.8,152.6 L333.00,152.00 C334.03,151.18 337.37,148.45 339.20,147.10 C341.03,145.75 342.40,144.87 344.00,143.90 C345.60,142.93 347.47,141.92 348.80,141.30 C350.13,140.68 350.87,140.52 352.00,140.20 C353.13,139.88 354.27,139.65 355.60,139.40 C356.93,139.15 355.93,138.92 360.00,138.70 C364.07,138.48 373.33,138.33 380.00,138.10 C386.67,137.87 393.33,137.63 400.00,137.30 C406.67,136.97 413.33,136.62 420.00,136.10 C426.67,135.58 433.33,134.77 440.00,134.20 C446.67,133.63 453.33,133.12 460.00,132.70 C466.67,132.28 472.93,131.98 480.00,131.70 C487.07,131.42 498.67,131.12 502.40,131.00 L502.40,173.50 C498.67,173.25 487.07,172.48 480.00,172.00 C472.93,171.52 466.67,171.05 460.00,170.60 C453.33,170.15 446.67,169.70 440.00,169.30 C433.33,168.90 426.67,168.48 420.00,168.20 C413.33,167.92 406.67,167.83 400.00,167.60 C393.33,167.37 386.67,167.18 380.00,166.80 C373.33,166.42 364.07,165.68 360.00,165.30 C355.93,164.92 356.93,164.77 355.60,164.50 C354.27,164.23 353.13,163.97 352.00,163.70 C350.87,163.43 350.13,163.33 348.80,162.90 C347.47,162.47 345.60,161.90 344.00,161.10 C342.40,160.30 341.03,159.42 339.20,158.10 C337.37,156.78 334.03,154.02 333.00,153.20 Z" fill="#a2a3b6" stroke="#8a8ba0" stroke-width="0.5"/>
<path d="M352.40,148.30 C353.00,147.92 354.73,146.53 356.00,146.00 C357.27,145.47 356.00,145.42 360.00,145.10 C364.00,144.78 373.33,144.37 380.00,144.10 C386.67,143.83 395.00,143.73 400.00,143.50 C405.00,143.27 406.67,143.05 410.00,142.70 C413.33,142.35 416.67,141.88 420.00,141.40 C423.33,140.92 426.58,140.38 430.00,139.80 C433.42,139.22 438.75,138.22 440.50,137.90 L440.50,138.30 C438.75,138.75 433.42,140.17 430.00,141.00 C426.58,141.83 423.33,142.63 420.00,143.30 C416.67,143.97 413.33,144.57 410.00,145.00 C406.67,145.43 405.00,145.37 400.00,145.90 C395.00,146.43 385.00,147.48 380.00,148.20 C375.00,148.92 373.33,149.65 370.00,150.20 C366.67,150.75 362.33,151.43 360.00,151.50 C357.67,151.57 357.27,151.13 356.00,150.60 C354.73,150.07 353.00,148.68 352.40,148.30 Z" fill="#69a843" stroke="#587a48" stroke-width="0.4"/>
<path d="M352.70,158.40 C353.92,158.22 355.45,157.78 360.00,157.30 C364.55,156.82 374.17,156.08 380.00,155.50 C385.83,154.92 390.00,154.45 395.00,153.80 C400.00,153.15 405.83,152.30 410.00,151.60 C414.17,150.90 416.67,150.53 420.00,149.60 C423.33,148.67 426.67,147.38 430.00,146.00 C433.33,144.62 436.67,142.80 440.00,141.30 C443.33,139.80 446.67,138.13 450.00,137.00 C453.33,135.87 455.00,135.23 460.00,134.50 C465.00,133.77 472.93,133.10 480.00,132.60 C487.07,132.10 498.67,131.68 502.40,131.50 L502.40,172.80 C498.67,172.37 487.90,171.07 480.00,170.20 C472.10,169.33 460.83,168.25 455.00,167.60 C449.17,166.95 449.17,166.87 445.00,166.30 C440.83,165.73 434.17,164.82 430.00,164.20 C425.83,163.58 423.33,163.07 420.00,162.60 C416.67,162.13 414.17,161.77 410.00,161.40 C405.83,161.03 400.00,160.62 395.00,160.40 C390.00,160.18 385.83,160.27 380.00,160.10 C374.17,159.93 364.55,159.68 360.00,159.40 C355.45,159.12 353.92,158.57 352.70,158.40 Z" fill="#f0c01c" stroke="#8f93b8" stroke-width="0.3"/>
<path d="M353.20,158.30 C354.33,158.22 355.53,158.05 360.00,157.80 C364.47,157.55 374.17,157.15 380.00,156.80 C385.83,156.45 389.17,156.13 395.00,155.70 C400.83,155.27 409.17,154.78 415.00,154.20 C420.83,153.62 425.00,152.67 430.00,152.20 C435.00,151.73 440.00,151.63 445.00,151.40 C450.00,151.17 454.17,151.00 460.00,150.80 C465.83,150.60 472.93,150.47 480.00,150.20 C487.07,149.93 498.67,149.37 502.40,149.20 L502.40,155.30 C498.67,155.22 487.07,154.82 480.00,154.80 C472.93,154.78 465.83,155.03 460.00,155.20 C454.17,155.37 450.00,155.57 445.00,155.80 C440.00,156.03 435.00,156.32 430.00,156.60 C425.00,156.88 420.83,157.22 415.00,157.50 C409.17,157.78 400.83,158.10 395.00,158.30 C389.17,158.50 385.83,158.65 380.00,158.70 C374.17,158.75 364.47,158.67 360.00,158.60 C355.53,158.53 354.33,158.35 353.20,158.30 Z" fill="#233f80" stroke="none" stroke-width="1"/>
<line x1="359.40" y1="129.80" x2="359.40" y2="175.00" stroke="#ffffff" stroke-width="0.8" stroke-opacity="0.55"/>
<text x="352.30" y="126.80" font-size="5.8" fill="#222" stroke="#222" stroke-width="0.058" textLength="13.50" lengthAdjust="spacingAndGlyphs">Day 0</text>
<text x="492.90" y="126.80" font-size="5.8" fill="#222" stroke="#222" stroke-width="0.058" textLength="19.30" lengthAdjust="spacingAndGlyphs">Day 100</text>
<text x="323.40" y="136.28" font-size="4.6" fill="#c0183e" stroke="#c0183e" stroke-width="0.046" textLength="21.10" lengthAdjust="spacingAndGlyphs">EZH2-InDel</text>
<text x="323.40" y="140.78" font-size="4.6" fill="#c0183e" stroke="#c0183e" stroke-width="0.046" textLength="25.30" lengthAdjust="spacingAndGlyphs">EZH2-C100R</text>
<text x="323.40" y="149.58" font-size="4.6" fill="#222" stroke="#222" stroke-width="0.046" textLength="13.40" lengthAdjust="spacingAndGlyphs">PTPRC</text>
<line x1="338.20" y1="143.50" x2="344.90" y2="152.90" stroke="#111" stroke-width="0.9"/>
<text x="351.20" y="135.28" font-size="4.6" fill="#222" stroke="#222" stroke-width="0.046" textLength="31.00" lengthAdjust="spacingAndGlyphs">CARD11, TEAD1</text>
<line x1="360.40" y1="135.40" x2="367.80" y2="148.90" stroke="#111" stroke-width="0.9"/>
<text x="428.40" y="135.28" font-size="4.6" fill="#222" stroke="#222" stroke-width="0.046" textLength="16.60" lengthAdjust="spacingAndGlyphs">CARD11</text>
<text x="428.40" y="140.78" font-size="4.6" fill="#555" stroke="#555" stroke-width="0.046" textLength="13.60" lengthAdjust="spacingAndGlyphs">PTPRC</text>
<line x1="441.90" y1="134.80" x2="449.00" y2="148.30" stroke="#111" stroke-width="0.9"/>
<rect x="331.90" y="179.50" width="2.80" height="2.80" fill="#555" stroke="none" stroke-width="1"/>
<text x="336.40" y="182.83" font-size="5.6" fill="#222" stroke="#222" stroke-width="0.056" textLength="20.60" lengthAdjust="spacingAndGlyphs">Founding</text>
<rect x="366.00" y="179.50" width="2.80" height="2.80" fill="#3d7a28" stroke="none" stroke-width="1"/>
<text x="370.90" y="182.83" font-size="5.6" fill="#222" stroke="#222" stroke-width="0.056" textLength="25.80" lengthAdjust="spacingAndGlyphs">Subclone 3</text>
<rect x="405.10" y="179.50" width="2.80" height="2.80" fill="#b07010" stroke="none" stroke-width="1"/>
<text x="410.30" y="182.83" font-size="5.6" fill="#222" stroke="#222" stroke-width="0.056" textLength="25.70" lengthAdjust="spacingAndGlyphs">Subclone 2</text>
<rect x="444.20" y="179.50" width="2.80" height="2.80" fill="#1a2a60" stroke="none" stroke-width="1"/>
<text x="448.70" y="182.83" font-size="5.6" fill="#222" stroke="#222" stroke-width="0.056" textLength="25.40" lengthAdjust="spacingAndGlyphs">Subclone 4</text>
<rect x="322.10" y="208.60" width="187.70" height="46.70" fill="none" stroke="#111" stroke-width="1.3"/>
<path d="M328.5,232.2 L332.00,231.40 C332.50,231.00 333.92,230.08 335.00,229.00 C336.08,227.92 337.33,226.28 338.50,224.90 C339.67,223.52 340.82,221.98 342.00,220.70 C343.18,219.42 344.42,218.27 345.60,217.20 C346.78,216.13 347.92,215.08 349.10,214.30 C350.28,213.52 351.52,213.00 352.70,212.50 C353.88,212.00 355.27,211.55 356.20,211.30 C357.13,211.05 357.95,211.05 358.30,211.00 L358.30,253.20 C357.95,253.17 357.13,253.20 356.20,253.00 C355.27,252.80 353.88,252.47 352.70,252.00 C351.52,251.53 350.28,250.98 349.10,250.20 C347.92,249.42 346.78,248.37 345.60,247.30 C344.42,246.23 343.18,245.08 342.00,243.80 C340.82,242.52 339.67,240.98 338.50,239.60 C337.33,238.22 336.08,236.58 335.00,235.50 C333.92,234.42 332.50,233.50 332.00,233.10 Z" fill="#a2a3b6" stroke="#8a8ba0" stroke-width="0.5"/>
<path d="M351.50,232.20 C351.73,231.37 352.50,229.02 352.90,227.20 C353.30,225.38 353.55,223.27 353.90,221.30 C354.25,219.33 354.55,217.02 355.00,215.40 C355.45,213.78 355.77,212.38 356.60,211.60 C357.43,210.82 357.77,210.42 360.00,210.70 C362.23,210.98 366.67,211.88 370.00,213.30 C373.33,214.72 376.67,217.17 380.00,219.20 C383.33,221.23 386.67,223.67 390.00,225.50 C393.33,227.33 397.50,229.27 400.00,230.20 C402.50,231.13 401.67,230.92 405.00,231.10 C408.33,231.28 412.50,231.23 420.00,231.30 C427.50,231.37 443.75,231.45 450.00,231.50 C456.25,231.55 456.25,231.58 457.50,231.60 L457.50,233.20 C456.25,233.18 456.25,233.15 450.00,233.10 C443.75,233.05 427.50,232.88 420.00,232.90 C412.50,232.92 408.33,233.07 405.00,233.20 C401.67,233.33 402.50,232.93 400.00,233.70 C397.50,234.47 393.33,236.03 390.00,237.80 C386.67,239.57 383.33,242.17 380.00,244.30 C376.67,246.43 373.33,249.12 370.00,250.60 C366.67,252.08 362.23,252.83 360.00,253.20 C357.77,253.57 357.43,253.50 356.60,252.80 C355.77,252.10 355.45,250.62 355.00,249.00 C354.55,247.38 354.25,245.07 353.90,243.10 C353.55,241.13 353.30,239.02 352.90,237.20 C352.50,235.38 351.73,233.03 351.50,232.20 Z" fill="#69a843" stroke="#6e7290" stroke-width="0.6"/>
<path d="M440.00,231.60 C441.67,231.55 447.50,231.48 450.00,231.30 C452.50,231.12 452.50,231.35 455.00,230.50 C457.50,229.65 461.67,227.77 465.00,226.20 C468.33,224.63 471.67,222.78 475.00,221.10 C478.33,219.42 481.67,217.60 485.00,216.10 C488.33,214.60 491.92,213.00 495.00,212.10 C498.08,211.20 502.08,210.93 503.50,210.70 L503.50,253.00 C502.08,252.60 498.08,251.60 495.00,250.60 C491.92,249.60 488.33,248.27 485.00,247.00 C481.67,245.73 478.33,244.57 475.00,243.00 C471.67,241.43 468.33,239.17 465.00,237.60 C461.67,236.03 457.50,234.35 455.00,233.60 C452.50,232.85 452.50,233.22 450.00,233.10 C447.50,232.98 441.67,232.93 440.00,232.90 Z" fill="#a2a3b6" stroke="#8a8ba0" stroke-width="0.5"/>
<path d="M457.00,232.20 C458.33,231.65 462.00,230.13 465.00,228.90 C468.00,227.67 471.67,226.10 475.00,224.80 C478.33,223.50 481.67,222.13 485.00,221.10 C488.33,220.07 491.92,219.23 495.00,218.60 C498.08,217.97 502.08,217.52 503.50,217.30 L503.50,246.60 C502.08,246.43 498.08,246.27 495.00,245.60 C491.92,244.93 488.33,243.82 485.00,242.60 C481.67,241.38 478.33,239.68 475.00,238.30 C471.67,236.92 468.00,235.32 465.00,234.30 C462.00,233.28 458.33,232.55 457.00,232.20 Z" fill="#f0c01c" stroke="#8f93b8" stroke-width="0.3"/>
<polygon points="500.60,232.00 503.50,229.40 503.50,235.00" fill="#2c3f7a" stroke="none" stroke-width="1"/>
<line x1="358.20" y1="208.80" x2="358.20" y2="255.00" stroke="#ffffff" stroke-width="0.8" stroke-opacity="0.55"/>
<text x="351.80" y="206.50" font-size="5.8" fill="#222" stroke="#222" stroke-width="0.058" textLength="13.20" lengthAdjust="spacingAndGlyphs">Day 0</text>
<text x="494.00" y="206.50" font-size="5.8" fill="#222" stroke="#222" stroke-width="0.058" textLength="19.00" lengthAdjust="spacingAndGlyphs">Day 226</text>
<text x="324.10" y="214.48" font-size="4.6" fill="#c0183e" stroke="#c0183e" stroke-width="0.046" textLength="12.30" lengthAdjust="spacingAndGlyphs">HLA-C</text>
<text x="324.10" y="219.38" font-size="4.6" fill="#c0183e" stroke="#c0183e" stroke-width="0.046" textLength="7.40" lengthAdjust="spacingAndGlyphs">B2M</text>
<text x="324.10" y="224.48" font-size="4.6" fill="#222" stroke="#222" stroke-width="0.046" textLength="6.40" lengthAdjust="spacingAndGlyphs">FAS</text>
<text x="324.10" y="229.58" font-size="4.6" fill="#222" stroke="#222" stroke-width="0.046" textLength="16.50" lengthAdjust="spacingAndGlyphs">LILRA4</text>
<line x1="335.20" y1="219.90" x2="343.20" y2="233.40" stroke="#111" stroke-width="0.9"/>
<text x="460.30" y="219.58" font-size="4.6" fill="#222" stroke="#222" stroke-width="0.046" textLength="11.80" lengthAdjust="spacingAndGlyphs">TRPV1</text>
<line x1="472.10" y1="219.10" x2="479.50" y2="233.10" stroke="#111" stroke-width="0.9"/>
<text x="481.40" y="219.38" font-size="4.6" fill="#222" stroke="#222" stroke-width="0.046" textLength="20.90" lengthAdjust="spacingAndGlyphs">HLA-DRB5</text>
<text x="481.40" y="224.68" font-size="4.6" fill="#444" stroke="#444" stroke-width="0.046" textLength="13.00" lengthAdjust="spacingAndGlyphs">PTK2B</text>
<text x="481.40" y="230.88" font-size="4.6" fill="#222" stroke="#222" stroke-width="0.046" textLength="13.50" lengthAdjust="spacingAndGlyphs">CDK14</text>
<line x1="495.40" y1="218.70" x2="502.60" y2="232.60" stroke="#111" stroke-width="0.9"/>
<rect x="331.10" y="259.50" width="2.80" height="2.80" fill="#555" stroke="none" stroke-width="1"/>
<text x="335.60" y="262.83" font-size="5.6" fill="#222" stroke="#222" stroke-width="0.056" textLength="20.60" lengthAdjust="spacingAndGlyphs">Founding</text>
<rect x="364.70" y="259.50" width="2.80" height="2.80" fill="#3d7a28" stroke="none" stroke-width="1"/>
<text x="369.30" y="262.83" font-size="5.6" fill="#222" stroke="#222" stroke-width="0.056" textLength="25.70" lengthAdjust="spacingAndGlyphs">Subclone 2</text>
<rect x="403.70" y="259.50" width="2.80" height="2.80" fill="#b07010" stroke="none" stroke-width="1"/>
<text x="408.60" y="262.83" font-size="5.6" fill="#222" stroke="#222" stroke-width="0.056" textLength="25.60" lengthAdjust="spacingAndGlyphs">Subclone 3</text>
<rect x="442.90" y="259.50" width="2.80" height="2.80" fill="#1a2a60" stroke="none" stroke-width="1"/>
<text x="447.10" y="262.83" font-size="5.6" fill="#222" stroke="#222" stroke-width="0.056" textLength="24.60" lengthAdjust="spacingAndGlyphs">Subclone 4</text>
<rect x="0.5" y="0.5" width="519" height="440" fill="none" stroke="#000" stroke-width="1.2"/>
</svg>
</body></html>
